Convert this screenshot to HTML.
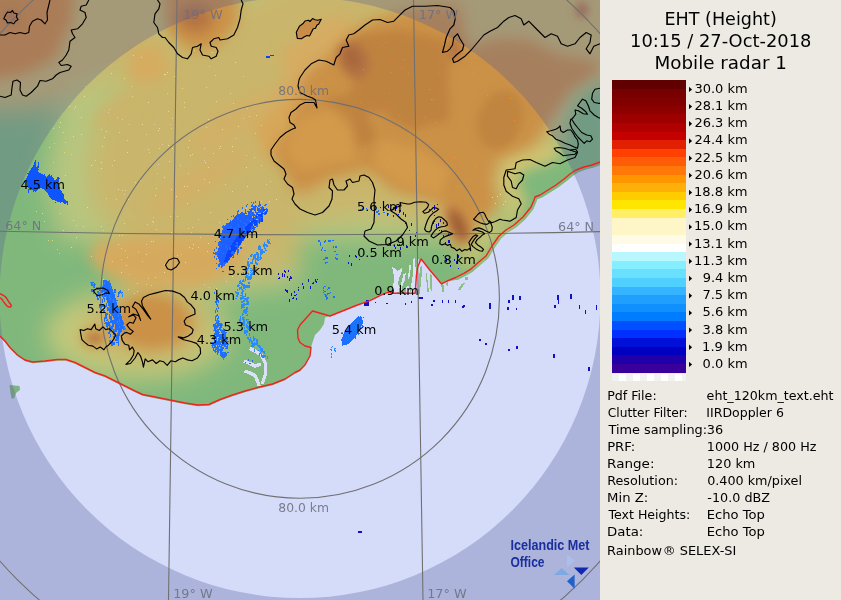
<!DOCTYPE html>
<html lang="en"><head><meta charset="utf-8"><title>EHT (Height) 10:15 / 27-Oct-2018 Mobile radar 1</title>
<style>html,body{margin:0;padding:0;background:#edeae3}svg{display:block}text{font-family:"DejaVu Sans","Liberation Sans",sans-serif}.lab{font-size:12px;fill:#000}.grid{font-size:12px;fill:#6c7080;fill-opacity:.88}.inf{font-size:12px;fill:#000}.ttl{font-size:17px;fill:#000}.ln{fill:none;stroke:#707070;stroke-width:1.1}.gl{fill:none;stroke:#000;stroke-width:1.15;stroke-linejoin:round}.co{fill:none;stroke:#f02222;stroke-width:1.4;stroke-linejoin:round}</style></head><body>
<svg width="841" height="600" viewBox="0 0 841 600" style="will-change:transform">
<defs>
<clipPath id="mapc"><rect x="0" y="0" width="600" height="600"/></clipPath>
<clipPath id="land"><path d="M0 0 L600 0 L600 166 L602.2 164.2 L594.2 167.2 L586.2 169.2 L578.2 172.2 L572.2 176.2 L566.2 181.2 L558.2 187.2 L550.2 192.2 L542.2 197.2 L537.2 199.2 L536.2 202.2 L533.2 209.2 L525.2 219.2 L516.2 227.2 L508.2 232.2 L501.2 238.2 L494.2 248.2 L488.2 258.2 L482.2 263.2 L472.2 271.9 L466.1 275.5 L457.8 279.7 L447.3 281 L441.3 283.8 L436.6 278 L429.5 269.7 L423.5 262 L421.1 259 L417.6 267.3 L416.4 275.7 L415.2 293.2 L393.8 293.2 L387.8 292.3 L383.1 294.1 L377.1 297.1 L370 300.6 L357.5 305 L345 310 L330 316 L325 317.5 L324 324 L320 330 L315 335 L312.5 342.5 L311 347.5 L310 356 L305 365 L300 371.3 L295 373.8 L285 380.3 L272.5 385.3 L257.5 388.8 L245 392.3 L232.5 396.3 L220 400.8 L209 405.8 L197.5 406.3 L185 404.3 L172.5 401.8 L160 399.3 L150 397.3 L142.5 395.8 L135 392.3 L125 387.3 L115 382.3 L105 377.3 L95 373.8 L85 368.8 L75 363.8 L66 360.8 L57.5 360.8 L45 362.3 L32.5 363.3 L25 361.3 L17.5 356.3 L10 348.8 L5 342.3 L0 337.3Z"/></clipPath>
<filter id="b12" x="-20%" y="-20%" width="140%" height="140%"><feGaussianBlur stdDeviation="12"/></filter>
<filter id="b7" x="-20%" y="-20%" width="140%" height="140%"><feGaussianBlur stdDeviation="7"/></filter>
<filter id="b4" x="-20%" y="-20%" width="140%" height="140%"><feGaussianBlur stdDeviation="4"/></filter>
<filter id="b2" x="-20%" y="-20%" width="140%" height="140%"><feGaussianBlur stdDeviation="2"/></filter>
</defs>
<rect x="0" y="0" width="841" height="600" fill="#edeae3"/>
<g clip-path="url(#mapc)">
<rect x="0" y="0" width="600" height="600" fill="#d5dcfa"/>
<g clip-path="url(#land)">
<rect x="0" y="0" width="600" height="420" fill="#80b87c"/>
<g filter="url(#b12)">
<path d="M30 -30 L640 -30 L640 140 L575 160 L530 195 L495 228 L470 248 L440 240 L300 240 L300 285 L200 300 L130 292 L100 245 L60 240 L45 180 L60 100Z" fill="#b7c67f"/>
<path d="M165 40 L300 -30 L640 -30 L640 90 L570 140 L520 185 L480 225 L440 228 L375 215 L300 225 L295 270 L200 285 L130 280 L105 250 L125 232 L95 215 L88 165 L100 120 L125 80Z" fill="#c9b66c"/>
<ellipse cx="138" cy="334" rx="92" ry="46" fill="#c4c87a"/>
<ellipse cx="150" cy="325" rx="62" ry="38" fill="#c9b66c"/>
<path d="M60 -30 L170 -30 L160 60 L100 80 L40 110 L-30 110 L-30 60Z" fill="#c9b66c"/>
</g>
<g filter="url(#b7)">
<path d="M-20 -20 L75 -20 L72 22 L60 45 L45 62 L25 74 L-20 82Z" fill="#d08c3e"/>
<ellipse cx="35" cy="45" rx="28" ry="22" fill="#d08c3e" transform="rotate(-30 35 45)"/>
<path d="M162 -20 L240 -20 L236 26 L214 48 L190 50 L166 32Z" fill="#cb9146"/>
<ellipse cx="195" cy="18" rx="18" ry="14" fill="#b47242"/>
<path d="M135 48 L160 45 L170 70 L150 85 L125 75Z" fill="#d6ac60"/>
<path d="M262 100 L300 70 L335 42 L300 100 L268 165 L255 130Z" fill="#d8a658"/>
<path d="M280 55 L315 22 L352 15 L348 42 L312 75 L288 88Z" fill="#d6ac62"/>
<path d="M300 78 L320 62 L338 48 L350 32 L372 20 L400 12 L430 5 L460 5 L468 48 L500 38 L530 40 L560 55 L600 62 L596 75 L570 95 L548 125 L530 148 L497 160 L492 182 L498 200 L492 214 L478 222 L472 240 L462 250 L453 248 L449 232 L445 212 L436 201 L415 196 L392 190 L378 176 L362 170 L345 176 L330 178 L315 188 L300 194 L292 188 L284 172 L272 155 L280 138 L292 128 L290 115 L300 104Z" fill="#cb9146"/>
<path d="M98 242 L132 238 L200 236 L245 243 L240 268 L200 287 L140 287 L104 274 L88 256Z" fill="#d5aa5f"/>
<ellipse cx="235" cy="120" rx="55" ry="16" fill="#d0b066" transform="rotate(-32 235 120)"/>
<ellipse cx="200" cy="180" rx="60" ry="14" fill="#d0b066" transform="rotate(-32 200 180)"/>
<ellipse cx="120" cy="110" rx="30" ry="10" fill="#cbb46c" transform="rotate(-32 120 110)"/>
<ellipse cx="152" cy="322" rx="40" ry="28" fill="#cb9146"/>
<ellipse cx="95" cy="338" rx="14" ry="9" fill="#cb9146"/>
<path d="M455 262 L474 250 L486 228 L505 222 L512 200 L503 180 L508 162 L560 145 L605 110 L610 170 L500 290Z" fill="#d6c670"/>
<path d="M556 118 L572 92 L600 75 L610 160 L555 165Z" fill="#b5c47c"/>
<path d="M568 120 L580 96 L610 80 L610 160 L560 160Z" fill="#80b87c"/>
<path d="M440 292 L456 272 L480 258 L495 236 L515 222 L525 200 L515 185 L520 170 L560 158 L610 130 L610 180 L500 290Z" fill="#80b87c"/>
</g>
<g filter="url(#b4)">
<path d="M338.5 60 L353.5 81.4 L349.2 94.2 L327.8 98.5 L325.7 102.8 L349.2 115.6 L353.5 130.6 L357.8 145.6 L370.6 145.6 L377 132.8 L370.6 124.2 L366.4 113.5 L385.6 111.4 L389.9 119.9 L413.4 130.6 L428.4 124.2 L447.7 122 L449.8 102.8 L447.7 81.4 L449.8 60 L445 40 L400 30 L360 35 L335 50Z" fill="#bf833f"/>
<path d="M300 120 L330 110 L350 130 L355 160 L300 170 L285 150Z" fill="#d39a4c"/>
<path d="M380 140 L420 150 L450 170 L440 195 L400 185 L375 165Z" fill="#d39a4c"/>
<ellipse cx="500" cy="120" rx="22" ry="30" fill="#c0853f" transform="rotate(20 500 120)"/>
<ellipse cx="354" cy="60" rx="15" ry="20" fill="#b47242" transform="rotate(-25 354 60)"/>
<ellipse cx="352" cy="58" rx="8" ry="11" fill="#a8683e" transform="rotate(-25 352 58)"/>
<ellipse cx="458" cy="224" rx="9" ry="19" fill="#b47242" transform="rotate(-25 458 224)"/>
<ellipse cx="458.5" cy="226" rx="4.5" ry="13" fill="#9a5c30" transform="rotate(-25 458.5 226)"/>
<ellipse cx="455" cy="50" rx="6" ry="11" fill="#b47242"/>
<ellipse cx="11" cy="17" rx="6" ry="6" fill="#b47242"/>
<ellipse cx="582" cy="10" rx="6" ry="8" fill="#b47242"/>
<ellipse cx="95" cy="338" rx="7" ry="4" fill="#b47242"/>
</g>
</g>
<path d="M297.3 38.4 L296.3 32.3 L299.4 26.3 L303.4 23.2 L305 21 L308.5 20.2 L310 21.5 L312.5 18.6 L315 19.8 L317.6 20.2 L321.2 19.2 L318.6 24.3 L317 25 L315.5 28.3 L313 29 L311.5 32.3 L309.5 36 L307 35.5 L304.4 36.8 L301.4 38.8Z" fill="#c98d48"/>
<path d="M9.5 385 L19.5 386 L20 390 L16 393 L14 398.5 L11.5 398.5 L10.5 393Z" fill="#7fb384"/>
<g shape-rendering="crispEdges">
<path d="M392 267.3 L395 267.9 L396.8 270.9 L399.7 269.7 L402.1 267.3 L401.5 272.1 L399.1 278 L397.9 284 L399.7 287.6 L398.5 292.3 L393.8 293.2 L393.2 285.2 L394.4 278 L393.2 272.1Z" fill="#dadffa"/>
<path d="M409.2 265 L411 265.6 L410.4 270.9 L409.8 276.9 L408 279.2 L408.6 272.1Z" fill="#dadffa"/>
<path d="M412.8 259 L415.2 257.8 L415.8 275.7 L415.2 293.2 L410.4 293.2 L411 285.2 L412.2 279.2 L413.4 269.7Z" fill="#dadffa"/>
<path d="M403.3 274.5 L405.7 273.3 L405.1 279.2 L402.7 285.2 L401.5 292.3 L399.7 292.3 L401.5 281.6Z" fill="#dadffa"/>
<path d="M418.2 253.1 L419 267.3 L417.8 275.7 L417.3 267.3Z" fill="#dadffa"/>
<path d="M405.7 287.6 L409.2 285.2 L409.8 293.2 L405.7 293.2Z" fill="#dadffa"/>
<path d="M250 348.5 L256 351.5 L262 356 L265.5 364 L265.5 374 L262 384" fill="none" stroke="#dadffa" stroke-width="3.2"/>
<path d="M244 361 L250 363.5 L255 366 L261 364" fill="none" stroke="#dadffa" stroke-width="3.2"/>
<path d="M244.5 371 L249 372.5 L255 375.5 L257.5 381 L259 386" fill="none" stroke="#dadffa" stroke-width="3.2"/>
<path d="M419.9 267.3 L422.3 265.6 L421.7 275.7 L420.5 287.6 L419.3 295.9 L418.2 295.9 L419 279.2Z" fill="#8cbf82"/>
<path d="M425.9 269.7 L427.1 275.7 L428.3 287.6 L429.5 292.3 L427.1 292.3 L426.5 281.6Z" fill="#8cbf82"/>
<path d="M430 273.3 L431.8 275.7 L432.4 289.9 L430.6 292.3Z" fill="#8cbf82"/>
<path d="M441.3 284 L444.3 285.2 L443.7 292.3 L441.9 292.3Z" fill="#8cbf82"/>
<path d="M446.7 281.6 L448.5 282.8 L447.9 285.8 L446.1 285.2Z" fill="#8cbf82"/>
<path d="M461.6 284 L465.1 282.8 L460.4 289.9 L457.4 290.5Z" fill="#8cbf82"/>
<path d="M465.1 276.9 L468.7 276.9 L467.5 279.8 L465.1 279.8Z" fill="#8cbf82"/>
</g>
<g shape-rendering="crispEdges">
<rect x="191" y="232" width="1" height="1" fill="#f6d0c0" opacity=".7"/>
<rect x="151" y="285" width="1" height="1" fill="#f6d0c0" opacity=".7"/>
<rect x="126" y="265" width="1" height="1" fill="#ffe87a" opacity=".7"/>
<rect x="171" y="189" width="1" height="1" fill="#fff09a" opacity=".7"/>
<rect x="220" y="146" width="1" height="1" fill="#fff09a" opacity=".7"/>
<rect x="71" y="247" width="1" height="1" fill="#fff09a" opacity=".7"/>
<rect x="190" y="155" width="1" height="1" fill="#fff09a" opacity=".7"/>
<rect x="84" y="96" width="1" height="1" fill="#fff09a" opacity=".7"/>
<rect x="256" y="115" width="1" height="1" fill="#fff09a" opacity=".7"/>
<rect x="170" y="216" width="1" height="1" fill="#fff09a" opacity=".7"/>
<rect x="137" y="283" width="1" height="1" fill="#ffe87a" opacity=".7"/>
<rect x="206" y="127" width="1" height="1" fill="#ffe87a" opacity=".7"/>
<rect x="122" y="119" width="1" height="1" fill="#f6d0c0" opacity=".7"/>
<rect x="112" y="165" width="1" height="1" fill="#f6d0c0" opacity=".7"/>
<rect x="75" y="106" width="1" height="1" fill="#fff09a" opacity=".7"/>
<rect x="135" y="182" width="1" height="1" fill="#ffe87a" opacity=".7"/>
<rect x="125" y="190" width="1" height="1" fill="#fff09a" opacity=".7"/>
<rect x="147" y="224" width="1" height="1" fill="#f6d0c0" opacity=".7"/>
<rect x="226" y="281" width="1" height="1" fill="#ffe87a" opacity=".7"/>
<rect x="119" y="132" width="1" height="1" fill="#f6d0c0" opacity=".7"/>
<rect x="95" y="160" width="1" height="1" fill="#f6d0c0" opacity=".7"/>
<rect x="224" y="247" width="1" height="1" fill="#ffe87a" opacity=".7"/>
<rect x="53" y="128" width="1" height="1" fill="#f6d0c0" opacity=".7"/>
<rect x="124" y="78" width="1" height="1" fill="#ffe87a" opacity=".7"/>
<rect x="270" y="181" width="1" height="1" fill="#ffe87a" opacity=".7"/>
<rect x="208" y="119" width="1" height="1" fill="#fff09a" opacity=".7"/>
<rect x="192" y="227" width="1" height="1" fill="#ffe87a" opacity=".7"/>
<rect x="168" y="145" width="1" height="1" fill="#fff09a" opacity=".7"/>
<rect x="222" y="129" width="1" height="1" fill="#ffe87a" opacity=".7"/>
<rect x="148" y="149" width="1" height="1" fill="#fff09a" opacity=".7"/>
<rect x="238" y="126" width="1" height="1" fill="#fff09a" opacity=".7"/>
<rect x="63" y="230" width="1" height="1" fill="#fff09a" opacity=".7"/>
<rect x="193" y="244" width="1" height="1" fill="#fff09a" opacity=".7"/>
<rect x="73" y="136" width="1" height="1" fill="#fff09a" opacity=".7"/>
<rect x="249" y="116" width="1" height="1" fill="#ffe87a" opacity=".7"/>
<rect x="269" y="201" width="1" height="1" fill="#fff09a" opacity=".7"/>
<rect x="156" y="229" width="1" height="1" fill="#ffe87a" opacity=".7"/>
<rect x="101" y="162" width="1" height="1" fill="#fff09a" opacity=".7"/>
<rect x="59" y="253" width="1" height="1" fill="#f6d0c0" opacity=".7"/>
<rect x="159" y="128" width="1" height="1" fill="#fff09a" opacity=".7"/>
<rect x="157" y="173" width="1" height="1" fill="#f6d0c0" opacity=".7"/>
<rect x="255" y="133" width="1" height="1" fill="#ffe87a" opacity=".7"/>
<rect x="210" y="212" width="1" height="1" fill="#ffe87a" opacity=".7"/>
<rect x="124" y="223" width="1" height="1" fill="#ffe87a" opacity=".7"/>
<rect x="247" y="108" width="1" height="1" fill="#f6d0c0" opacity=".7"/>
<rect x="216" y="288" width="1" height="1" fill="#ffe87a" opacity=".7"/>
<rect x="198" y="190" width="1" height="1" fill="#fff09a" opacity=".7"/>
<rect x="153" y="241" width="1" height="1" fill="#ffe87a" opacity=".7"/>
<rect x="204" y="160" width="1" height="1" fill="#f6d0c0" opacity=".7"/>
<rect x="198" y="247" width="1" height="1" fill="#ffe87a" opacity=".7"/>
<rect x="101" y="129" width="1" height="1" fill="#ffe87a" opacity=".7"/>
<rect x="121" y="259" width="1" height="1" fill="#f6d0c0" opacity=".7"/>
<rect x="146" y="134" width="1" height="1" fill="#ffe87a" opacity=".7"/>
<rect x="164" y="177" width="1" height="1" fill="#fff09a" opacity=".7"/>
<rect x="81" y="134" width="1" height="1" fill="#ffe87a" opacity=".7"/>
<rect x="204" y="148" width="1" height="1" fill="#f6d0c0" opacity=".7"/>
<rect x="232" y="191" width="1" height="1" fill="#f6d0c0" opacity=".7"/>
<rect x="173" y="265" width="1" height="1" fill="#ffe87a" opacity=".7"/>
<rect x="71" y="154" width="1" height="1" fill="#f6d0c0" opacity=".7"/>
<rect x="76" y="237" width="1" height="1" fill="#fff09a" opacity=".7"/>
<rect x="194" y="50" width="1" height="1" fill="#ffe87a" opacity=".7"/>
<rect x="172" y="148" width="1" height="1" fill="#ffe87a" opacity=".7"/>
<rect x="128" y="199" width="1" height="1" fill="#f6d0c0" opacity=".7"/>
<rect x="83" y="226" width="1" height="1" fill="#ffe87a" opacity=".7"/>
<rect x="102" y="146" width="1" height="1" fill="#fff09a" opacity=".7"/>
<rect x="209" y="182" width="1" height="1" fill="#fff09a" opacity=".7"/>
<rect x="172" y="118" width="1" height="1" fill="#ffe87a" opacity=".7"/>
<rect x="171" y="128" width="1" height="1" fill="#f6d0c0" opacity=".7"/>
<rect x="106" y="131" width="1" height="1" fill="#fff09a" opacity=".7"/>
<rect x="138" y="251" width="1" height="1" fill="#f6d0c0" opacity=".7"/>
<rect x="169" y="161" width="1" height="1" fill="#fff09a" opacity=".7"/>
<rect x="184" y="186" width="1" height="1" fill="#fff09a" opacity=".7"/>
<rect x="121" y="272" width="1" height="1" fill="#fff09a" opacity=".7"/>
<rect x="129" y="124" width="1" height="1" fill="#f6d0c0" opacity=".7"/>
<rect x="170" y="124" width="1" height="1" fill="#f6d0c0" opacity=".7"/>
<rect x="127" y="152" width="1" height="1" fill="#fff09a" opacity=".7"/>
<rect x="158" y="164" width="1" height="1" fill="#f6d0c0" opacity=".7"/>
<rect x="128" y="289" width="1" height="1" fill="#fff09a" opacity=".7"/>
<rect x="184" y="107" width="1" height="1" fill="#ffe87a" opacity=".7"/>
<rect x="159" y="148" width="1" height="1" fill="#ffe87a" opacity=".7"/>
<rect x="36" y="211" width="1" height="1" fill="#ffe87a" opacity=".7"/>
<rect x="65" y="142" width="1" height="1" fill="#ffe87a" opacity=".7"/>
<rect x="168" y="111" width="1" height="1" fill="#ffe87a" opacity=".7"/>
<rect x="233" y="103" width="1" height="1" fill="#ffe87a" opacity=".7"/>
<rect x="249" y="227" width="1" height="1" fill="#ffe87a" opacity=".7"/>
<rect x="106" y="198" width="1" height="1" fill="#ffe87a" opacity=".7"/>
<rect x="164" y="264" width="1" height="1" fill="#f6d0c0" opacity=".7"/>
<rect x="62" y="113" width="1" height="1" fill="#f6d0c0" opacity=".7"/>
<rect x="117" y="117" width="1" height="1" fill="#f6d0c0" opacity=".7"/>
<rect x="207" y="251" width="1" height="1" fill="#fff09a" opacity=".7"/>
<rect x="148" y="278" width="1" height="1" fill="#f6d0c0" opacity=".7"/>
<rect x="232" y="151" width="1" height="1" fill="#f6d0c0" opacity=".7"/>
<rect x="209" y="287" width="1" height="1" fill="#f6d0c0" opacity=".7"/>
<rect x="155" y="277" width="1" height="1" fill="#ffe87a" opacity=".7"/>
<rect x="153" y="217" width="1" height="1" fill="#f6d0c0" opacity=".7"/>
<rect x="81" y="117" width="1" height="1" fill="#fff09a" opacity=".7"/>
<rect x="232" y="191" width="1" height="1" fill="#f6d0c0" opacity=".7"/>
<rect x="232" y="276" width="1" height="1" fill="#fff09a" opacity=".7"/>
<rect x="73" y="220" width="1" height="1" fill="#ffe87a" opacity=".7"/>
<rect x="140" y="180" width="1" height="1" fill="#fff09a" opacity=".7"/>
<rect x="243" y="245" width="1" height="1" fill="#f6d0c0" opacity=".7"/>
<rect x="141" y="57" width="1" height="1" fill="#ffe87a" opacity=".7"/>
<rect x="212" y="52" width="1" height="1" fill="#fff09a" opacity=".7"/>
<rect x="87" y="207" width="1" height="1" fill="#fff09a" opacity=".7"/>
<rect x="215" y="75" width="1" height="1" fill="#ffe87a" opacity=".7"/>
<rect x="213" y="153" width="1" height="1" fill="#fff09a" opacity=".7"/>
<rect x="188" y="147" width="1" height="1" fill="#fff09a" opacity=".7"/>
<rect x="174" y="211" width="1" height="1" fill="#f6d0c0" opacity=".7"/>
<rect x="179" y="233" width="1" height="1" fill="#f6d0c0" opacity=".7"/>
<rect x="64" y="152" width="1" height="1" fill="#ffe87a" opacity=".7"/>
<rect x="208" y="167" width="1" height="1" fill="#ffe87a" opacity=".7"/>
<rect x="44" y="221" width="1" height="1" fill="#fff09a" opacity=".7"/>
<rect x="177" y="216" width="1" height="1" fill="#ffe87a" opacity=".7"/>
<rect x="266" y="184" width="1" height="1" fill="#f6d0c0" opacity=".7"/>
<rect x="91" y="256" width="1" height="1" fill="#ffe87a" opacity=".7"/>
<rect x="164" y="74" width="1" height="1" fill="#fff09a" opacity=".7"/>
<rect x="254" y="157" width="1" height="1" fill="#ffe87a" opacity=".7"/>
<rect x="76" y="225" width="1" height="1" fill="#f6d0c0" opacity=".7"/>
<rect x="118" y="189" width="1" height="1" fill="#fff09a" opacity=".7"/>
<rect x="184" y="102" width="1" height="1" fill="#ffe87a" opacity=".7"/>
<rect x="154" y="124" width="1" height="1" fill="#f6d0c0" opacity=".7"/>
<rect x="243" y="76" width="1" height="1" fill="#f6d0c0" opacity=".7"/>
<rect x="127" y="257" width="1" height="1" fill="#ffe87a" opacity=".7"/>
<rect x="116" y="199" width="1" height="1" fill="#ffe87a" opacity=".7"/>
<rect x="236" y="138" width="1" height="1" fill="#f6d0c0" opacity=".7"/>
<rect x="246" y="208" width="1" height="1" fill="#f6d0c0" opacity=".7"/>
<rect x="142" y="261" width="1" height="1" fill="#f6d0c0" opacity=".7"/>
<rect x="85" y="86" width="1" height="1" fill="#fff09a" opacity=".7"/>
<rect x="261" y="165" width="1" height="1" fill="#ffe87a" opacity=".7"/>
<rect x="261" y="201" width="1" height="1" fill="#ffe87a" opacity=".7"/>
<rect x="114" y="160" width="1" height="1" fill="#fff09a" opacity=".7"/>
<rect x="127" y="140" width="1" height="1" fill="#ffe87a" opacity=".7"/>
<rect x="69" y="106" width="1" height="1" fill="#ffe87a" opacity=".7"/>
<rect x="242" y="235" width="1" height="1" fill="#f6d0c0" opacity=".7"/>
<rect x="91" y="165" width="1" height="1" fill="#fff09a" opacity=".7"/>
<rect x="119" y="235" width="1" height="1" fill="#ffe87a" opacity=".7"/>
<rect x="205" y="162" width="1" height="1" fill="#fff09a" opacity=".7"/>
<rect x="60" y="213" width="1" height="1" fill="#ffe87a" opacity=".7"/>
<rect x="148" y="102" width="1" height="1" fill="#fff09a" opacity=".7"/>
<rect x="38" y="225" width="1" height="1" fill="#f6d0c0" opacity=".7"/>
<rect x="134" y="293" width="1" height="1" fill="#ffe87a" opacity=".7"/>
<rect x="206" y="87" width="1" height="1" fill="#ffe87a" opacity=".7"/>
<rect x="103" y="230" width="1" height="1" fill="#f6d0c0" opacity=".7"/>
<rect x="151" y="241" width="1" height="1" fill="#fff09a" opacity=".7"/>
<rect x="204" y="284" width="1" height="1" fill="#f6d0c0" opacity=".7"/>
<rect x="188" y="228" width="1" height="1" fill="#ffe87a" opacity=".7"/>
<rect x="232" y="146" width="1" height="1" fill="#fff09a" opacity=".7"/>
<rect x="247" y="186" width="1" height="1" fill="#fff09a" opacity=".7"/>
<rect x="216" y="101" width="1" height="1" fill="#ffe87a" opacity=".7"/>
<rect x="53" y="162" width="1" height="1" fill="#f6d0c0" opacity=".7"/>
<rect x="133" y="55" width="1" height="1" fill="#ffe87a" opacity=".7"/>
<rect x="246" y="155" width="1" height="1" fill="#f6d0c0" opacity=".7"/>
<rect x="162" y="144" width="1" height="1" fill="#f6d0c0" opacity=".7"/>
<rect x="235" y="62" width="1" height="1" fill="#fff09a" opacity=".7"/>
<rect x="185" y="262" width="1" height="1" fill="#fff09a" opacity=".7"/>
<rect x="192" y="154" width="1" height="1" fill="#ffe87a" opacity=".7"/>
<rect x="156" y="188" width="1" height="1" fill="#ffe87a" opacity=".7"/>
<rect x="165" y="74" width="1" height="1" fill="#fff09a" opacity=".7"/>
<rect x="146" y="254" width="1" height="1" fill="#fff09a" opacity=".7"/>
<rect x="174" y="76" width="1" height="1" fill="#ffe87a" opacity=".7"/>
<rect x="52" y="240" width="1" height="1" fill="#ffe87a" opacity=".7"/>
<rect x="111" y="73" width="1" height="1" fill="#fff09a" opacity=".7"/>
<rect x="152" y="221" width="1" height="1" fill="#ffe87a" opacity=".7"/>
<rect x="101" y="168" width="1" height="1" fill="#fff09a" opacity=".7"/>
<rect x="104" y="137" width="1" height="1" fill="#fff09a" opacity=".7"/>
<rect x="48" y="240" width="1" height="1" fill="#ffe87a" opacity=".7"/>
<rect x="225" y="184" width="1" height="1" fill="#ffe87a" opacity=".7"/>
<rect x="200" y="237" width="1" height="1" fill="#f6d0c0" opacity=".7"/>
<rect x="208" y="243" width="1" height="1" fill="#fff09a" opacity=".7"/>
<rect x="219" y="222" width="1" height="1" fill="#ffe87a" opacity=".7"/>
<rect x="57" y="249" width="1" height="1" fill="#f6d0c0" opacity=".7"/>
<rect x="74" y="108" width="1" height="1" fill="#f6d0c0" opacity=".7"/>
<rect x="171" y="232" width="1" height="1" fill="#fff09a" opacity=".7"/>
<rect x="63" y="132" width="1" height="1" fill="#ffe87a" opacity=".7"/>
<rect x="276" y="199" width="1" height="1" fill="#fff09a" opacity=".7"/>
<rect x="167" y="72" width="1" height="1" fill="#fff09a" opacity=".7"/>
<rect x="181" y="254" width="1" height="1" fill="#f6d0c0" opacity=".7"/>
<rect x="187" y="203" width="1" height="1" fill="#fff09a" opacity=".7"/>
<rect x="146" y="284" width="1" height="1" fill="#ffe87a" opacity=".7"/>
<rect x="60" y="122" width="1" height="1" fill="#fff09a" opacity=".7"/>
<rect x="149" y="152" width="1" height="1" fill="#ffe87a" opacity=".7"/>
<rect x="42" y="213" width="1" height="1" fill="#fff09a" opacity=".7"/>
<rect x="168" y="292" width="1" height="1" fill="#f6d0c0" opacity=".7"/>
<rect x="251" y="218" width="1" height="1" fill="#fff09a" opacity=".7"/>
<rect x="180" y="165" width="1" height="1" fill="#ffe87a" opacity=".7"/>
<rect x="132" y="96" width="1" height="1" fill="#ffe87a" opacity=".7"/>
<rect x="243" y="118" width="1" height="1" fill="#f6d0c0" opacity=".7"/>
<rect x="122" y="235" width="1" height="1" fill="#fff09a" opacity=".7"/>
<rect x="125" y="250" width="1" height="1" fill="#f6d0c0" opacity=".7"/>
<rect x="248" y="260" width="1" height="1" fill="#f6d0c0" opacity=".7"/>
<rect x="158" y="130" width="1" height="1" fill="#fff09a" opacity=".7"/>
<rect x="246" y="167" width="1" height="1" fill="#fff09a" opacity=".7"/>
<rect x="54" y="143" width="1" height="1" fill="#f6d0c0" opacity=".7"/>
<rect x="103" y="279" width="1" height="1" fill="#ffe87a" opacity=".7"/>
<rect x="154" y="162" width="1" height="1" fill="#f6d0c0" opacity=".7"/>
<rect x="192" y="248" width="1" height="1" fill="#ffe87a" opacity=".7"/>
<rect x="209" y="66" width="1" height="1" fill="#f6d0c0" opacity=".7"/>
<rect x="182" y="88" width="1" height="1" fill="#ffe87a" opacity=".7"/>
<rect x="188" y="173" width="1" height="1" fill="#f6d0c0" opacity=".7"/>
<rect x="153" y="222" width="1" height="1" fill="#ffe87a" opacity=".7"/>
<rect x="146" y="244" width="1" height="1" fill="#f6d0c0" opacity=".7"/>
<rect x="204" y="179" width="1" height="1" fill="#ffe87a" opacity=".7"/>
<rect x="124" y="194" width="1" height="1" fill="#f6d0c0" opacity=".7"/>
<rect x="230" y="93" width="1" height="1" fill="#ffe87a" opacity=".7"/>
<rect x="122" y="190" width="1" height="1" fill="#f6d0c0" opacity=".7"/>
<rect x="137" y="291" width="1" height="1" fill="#fff09a" opacity=".7"/>
<rect x="101" y="226" width="1" height="1" fill="#fff09a" opacity=".7"/>
<rect x="121" y="248" width="1" height="1" fill="#f6d0c0" opacity=".7"/>
<rect x="187" y="186" width="1" height="1" fill="#ffe87a" opacity=".7"/>
<rect x="164" y="272" width="1" height="1" fill="#fff09a" opacity=".7"/>
<rect x="118" y="244" width="1" height="1" fill="#ffe87a" opacity=".7"/>
<rect x="131" y="86" width="1" height="1" fill="#f6d0c0" opacity=".7"/>
<rect x="167" y="93" width="1" height="1" fill="#f6d0c0" opacity=".7"/>
<rect x="189" y="140" width="1" height="1" fill="#fff09a" opacity=".7"/>
<rect x="208" y="295" width="1" height="1" fill="#fff09a" opacity=".7"/>
<rect x="109" y="109" width="1" height="1" fill="#f6d0c0" opacity=".7"/>
<rect x="49" y="147" width="1" height="1" fill="#fff09a" opacity=".7"/>
<rect x="177" y="255" width="1" height="1" fill="#f6d0c0" opacity=".7"/>
<rect x="219" y="148" width="1" height="1" fill="#ffe87a" opacity=".7"/>
<rect x="155" y="195" width="1" height="1" fill="#fff09a" opacity=".7"/>
<rect x="108" y="112" width="1" height="1" fill="#f6d0c0" opacity=".7"/>
<rect x="261" y="125" width="1" height="1" fill="#ffe87a" opacity=".7"/>
<rect x="176" y="196" width="1" height="1" fill="#fff09a" opacity=".7"/>
<rect x="142" y="124" width="1" height="1" fill="#fff09a" opacity=".7"/>
<rect x="198" y="219" width="1" height="1" fill="#f6d0c0" opacity=".7"/>
<rect x="65" y="175" width="1" height="1" fill="#fff09a" opacity=".7"/>
<rect x="112" y="261" width="1" height="1" fill="#f6d0c0" opacity=".7"/>
<rect x="129" y="274" width="1" height="1" fill="#f6d0c0" opacity=".7"/>
<rect x="189" y="247" width="1" height="1" fill="#fff09a" opacity=".7"/>
<rect x="59" y="127" width="1" height="1" fill="#ffe87a" opacity=".7"/>
<rect x="447" y="38" width="1" height="1" fill="#ff8a20" opacity=".7"/>
<rect x="476" y="166" width="1" height="1" fill="#ff9a28" opacity=".7"/>
<rect x="471" y="186" width="1" height="1" fill="#f0705a" opacity=".7"/>
<rect x="450" y="193" width="1" height="1" fill="#ff9a28" opacity=".7"/>
<rect x="387" y="166" width="1" height="1" fill="#ff9a28" opacity=".7"/>
<rect x="349" y="87" width="1" height="1" fill="#ff8a20" opacity=".7"/>
<rect x="483" y="64" width="1" height="1" fill="#f0705a" opacity=".7"/>
<rect x="391" y="81" width="1" height="1" fill="#f0705a" opacity=".7"/>
<rect x="473" y="73" width="1" height="1" fill="#ff9a28" opacity=".7"/>
<rect x="480" y="55" width="1" height="1" fill="#ff8a20" opacity=".7"/>
<rect x="391" y="72" width="1" height="1" fill="#ff8a20" opacity=".7"/>
<rect x="454" y="157" width="1" height="1" fill="#ff9a28" opacity=".7"/>
<rect x="438" y="73" width="1" height="1" fill="#ff8a20" opacity=".7"/>
<rect x="403" y="59" width="1" height="1" fill="#ff9a28" opacity=".7"/>
<rect x="365" y="149" width="1" height="1" fill="#ff9a28" opacity=".7"/>
<rect x="429" y="89" width="1" height="1" fill="#ff9a28" opacity=".7"/>
<rect x="322" y="84" width="1" height="1" fill="#ff9a28" opacity=".7"/>
<rect x="360" y="102" width="1" height="1" fill="#ff8a20" opacity=".7"/>
<rect x="443" y="171" width="1" height="1" fill="#ff8a20" opacity=".7"/>
<rect x="421" y="29" width="1" height="1" fill="#ff8a20" opacity=".7"/>
<rect x="485" y="110" width="1" height="1" fill="#f0705a" opacity=".7"/>
<rect x="525" y="138" width="1" height="1" fill="#f0705a" opacity=".7"/>
<rect x="399" y="177" width="1" height="1" fill="#ff8a20" opacity=".7"/>
<rect x="519" y="88" width="1" height="1" fill="#ff9a28" opacity=".7"/>
<rect x="487" y="95" width="1" height="1" fill="#ff9a28" opacity=".7"/>
<rect x="401" y="68" width="1" height="1" fill="#ff8a20" opacity=".7"/>
<rect x="452" y="158" width="1" height="1" fill="#ff8a20" opacity=".7"/>
<rect x="308" y="93" width="1" height="1" fill="#ff9a28" opacity=".7"/>
<rect x="443" y="44" width="1" height="1" fill="#ff9a28" opacity=".7"/>
<rect x="318" y="85" width="1" height="1" fill="#f0705a" opacity=".7"/>
<rect x="402" y="68" width="1" height="1" fill="#f0705a" opacity=".7"/>
<rect x="389" y="159" width="1" height="1" fill="#ff9a28" opacity=".7"/>
<rect x="514" y="120" width="1" height="1" fill="#ff8a20" opacity=".7"/>
<rect x="326" y="135" width="1" height="1" fill="#ff8a20" opacity=".7"/>
<rect x="431" y="99" width="1" height="1" fill="#ff9a28" opacity=".7"/>
<rect x="392" y="62" width="1" height="1" fill="#f0705a" opacity=".7"/>
<rect x="485" y="95" width="1" height="1" fill="#f0705a" opacity=".7"/>
<rect x="471" y="62" width="1" height="1" fill="#ff8a20" opacity=".7"/>
<rect x="313" y="110" width="1" height="1" fill="#ff9a28" opacity=".7"/>
<rect x="466" y="179" width="1" height="1" fill="#ff9a28" opacity=".7"/>
<rect x="433" y="99" width="1" height="1" fill="#ff9a28" opacity=".7"/>
<rect x="457" y="186" width="1" height="1" fill="#ff8a20" opacity=".7"/>
<rect x="436" y="69" width="1" height="1" fill="#f0705a" opacity=".7"/>
<rect x="318" y="100" width="1" height="1" fill="#f0705a" opacity=".7"/>
<rect x="350" y="131" width="1" height="1" fill="#ff9a28" opacity=".7"/>
<rect x="521" y="73" width="1" height="1" fill="#f0705a" opacity=".7"/>
<rect x="389" y="93" width="1" height="1" fill="#ff8a20" opacity=".7"/>
<rect x="384" y="108" width="1" height="1" fill="#f0705a" opacity=".7"/>
<rect x="435" y="122" width="1" height="1" fill="#ff9a28" opacity=".7"/>
<rect x="382" y="45" width="1" height="1" fill="#ff8a20" opacity=".7"/>
<rect x="363" y="69" width="1" height="1" fill="#ff9a28" opacity=".7"/>
<rect x="477" y="67" width="1" height="1" fill="#ff9a28" opacity=".7"/>
<rect x="450" y="89" width="1" height="1" fill="#f0705a" opacity=".7"/>
<rect x="489" y="146" width="1" height="1" fill="#f0705a" opacity=".7"/>
<rect x="510" y="98" width="1" height="1" fill="#ff9a28" opacity=".7"/>
<rect x="442" y="121" width="1" height="1" fill="#f0705a" opacity=".7"/>
<rect x="385" y="42" width="1" height="1" fill="#ff8a20" opacity=".7"/>
<rect x="418" y="176" width="1" height="1" fill="#ff9a28" opacity=".7"/>
<rect x="399" y="115" width="1" height="1" fill="#ff8a20" opacity=".7"/>
<rect x="446" y="59" width="1" height="1" fill="#f0705a" opacity=".7"/>
<rect x="316" y="102" width="1" height="1" fill="#f0705a" opacity=".7"/>
<rect x="425" y="117" width="1" height="1" fill="#ff9a28" opacity=".7"/>
<rect x="529" y="142" width="1" height="1" fill="#ff8a20" opacity=".7"/>
<rect x="328" y="155" width="1" height="1" fill="#ff8a20" opacity=".7"/>
<rect x="408" y="73" width="1" height="1" fill="#ff8a20" opacity=".7"/>
<rect x="423" y="182" width="1" height="1" fill="#ff8a20" opacity=".7"/>
<rect x="391" y="138" width="1" height="1" fill="#ff8a20" opacity=".7"/>
<rect x="375" y="130" width="1" height="1" fill="#ff8a20" opacity=".7"/>
<rect x="321" y="83" width="1" height="1" fill="#ff9a28" opacity=".7"/>
<rect x="453" y="98" width="1" height="1" fill="#f0705a" opacity=".7"/>
<rect x="497" y="196" width="1" height="1" fill="#fff09a" opacity=".7"/>
<rect x="500" y="194" width="1" height="1" fill="#fff09a" opacity=".7"/>
<rect x="503" y="204" width="1" height="1" fill="#fff09a" opacity=".7"/>
<rect x="505" y="201" width="1" height="1" fill="#fff09a" opacity=".7"/>
<rect x="495" y="203" width="1" height="1" fill="#fff09a" opacity=".7"/>
<rect x="492" y="197" width="1" height="1" fill="#fff09a" opacity=".7"/>
<path d="M27.0 177.0 29.0 172.0 31.0 169.0 33.5 165.0 35.5 160.0 36.5 163.0 35.5 168.0 37.5 166.0 39.0 166.5 37.5 171.0 40.0 173.5 44.0 175.0 47.0 177.0 49.5 173.5 50.0 176.0 52.5 174.5 52.0 178.0 55.0 180.0 59.0 177.0 59.5 180.0 58.0 183.0 60.5 190.0 64.0 195.0 63.5 198.0 67.0 202.0 65.0 204.5 62.0 202.0 59.0 202.5 55.0 200.5 50.0 198.0 48.0 194.0 45.0 190.0 41.0 188.0 37.0 190.0 36.0 193.0 34.0 190.0 29.0 189.5 27.0 184.0 26.0 180.0Z" fill="#0f55ff"/>
<rect x="44" y="185" width="1" height="4" fill="#0f55ff"/>
<rect x="47" y="186" width="1" height="4" fill="#0f55ff"/>
<rect x="52" y="196" width="1" height="4" fill="#0f55ff"/>
<rect x="38" y="162" width="1" height="4" fill="#0f55ff"/>
<rect x="45" y="179" width="1" height="2" fill="#0f55ff"/>
<rect x="53" y="182" width="1" height="4" fill="#0f55ff"/>
<rect x="53" y="178" width="1" height="3" fill="#0f55ff"/>
<rect x="38" y="169" width="1" height="1" fill="#0f55ff"/>
<rect x="52" y="196" width="1" height="3" fill="#0f55ff"/>
<rect x="28" y="174" width="1" height="1" fill="#0f55ff"/>
<rect x="24" y="181" width="1" height="2" fill="#0f55ff"/>
<rect x="59" y="178" width="1" height="1" fill="#0f55ff"/>
<rect x="51" y="186" width="1" height="2" fill="#0f55ff"/>
<rect x="34" y="171" width="1" height="3" fill="#0f55ff"/>
<rect x="33" y="189" width="1" height="3" fill="#0f55ff"/>
<rect x="41" y="180" width="1" height="2" fill="#0f55ff"/>
<rect x="67" y="201" width="1" height="4" fill="#0f55ff"/>
<rect x="57" y="177" width="1" height="4" fill="#0f55ff"/>
<rect x="37" y="167" width="1" height="2" fill="#0f55ff"/>
<rect x="34" y="185" width="1" height="3" fill="#0f55ff"/>
<rect x="44" y="174" width="1" height="1" fill="#0f55ff"/>
<rect x="40" y="173" width="1" height="1" fill="#0f55ff"/>
<rect x="27" y="173" width="1" height="1" fill="#0f55ff"/>
<rect x="27" y="184" width="1" height="2" fill="#0f55ff"/>
<rect x="60" y="202" width="1" height="1" fill="#0f55ff"/>
<rect x="55" y="202" width="1" height="1" fill="#0f55ff"/>
<rect x="52" y="177" width="1" height="1" fill="#0f55ff"/>
<rect x="28" y="189" width="1" height="4" fill="#0f55ff"/>
<rect x="57" y="177" width="1" height="4" fill="#0f55ff"/>
<rect x="45" y="184" width="1" height="3" fill="#0f55ff"/>
<path d="M220.0 263.3 217.5 256.7 218.3 248.3 220.8 240.0 221.7 231.7 224.2 225.8 230.8 221.7 236.7 215.0 243.0 212.0 250.0 222.0 253.3 228.3 248.3 234.2 243.3 240.0 239.2 246.7 234.2 253.3 229.2 260.0 225.0 265.0 221.7 268.3Z" fill="#1e60ff"/>
<rect x="256" y="215" width="1" height="3" fill="#1e60ff"/>
<rect x="258" y="215" width="1" height="2" fill="#1e60ff"/>
<rect x="265" y="212" width="2" height="1" fill="#1e60ff"/>
<rect x="251" y="210" width="1" height="2" fill="#1e60ff"/>
<rect x="249" y="216" width="2" height="3" fill="#1e60ff"/>
<rect x="255" y="210" width="1" height="3" fill="#1e60ff"/>
<rect x="251" y="219" width="2" height="1" fill="#1e60ff"/>
<rect x="258" y="208" width="2" height="2" fill="#1e60ff"/>
<rect x="252" y="221" width="1" height="1" fill="#1e60ff"/>
<rect x="245" y="211" width="1" height="2" fill="#1e60ff"/>
<rect x="244" y="213" width="2" height="1" fill="#1e60ff"/>
<rect x="251" y="208" width="1" height="2" fill="#1e60ff"/>
<rect x="254" y="219" width="2" height="2" fill="#1e60ff"/>
<rect x="266" y="209" width="1" height="2" fill="#1e60ff"/>
<rect x="248" y="213" width="2" height="2" fill="#1e60ff"/>
<rect x="266" y="208" width="1" height="2" fill="#1e60ff"/>
<rect x="262" y="207" width="2" height="3" fill="#1e60ff"/>
<rect x="262" y="206" width="1" height="3" fill="#1e60ff"/>
<rect x="258" y="214" width="2" height="3" fill="#1e60ff"/>
<rect x="257" y="216" width="2" height="2" fill="#1e60ff"/>
<rect x="254" y="210" width="2" height="1" fill="#1e60ff"/>
<rect x="249" y="209" width="2" height="1" fill="#1e60ff"/>
<rect x="252" y="218" width="2" height="3" fill="#1e60ff"/>
<rect x="251" y="212" width="2" height="3" fill="#1e60ff"/>
<rect x="256" y="216" width="1" height="3" fill="#1e60ff"/>
<rect x="255" y="206" width="2" height="1" fill="#1e60ff"/>
<rect x="247" y="211" width="1" height="1" fill="#1e60ff"/>
<rect x="261" y="208" width="1" height="1" fill="#1e60ff"/>
<rect x="254" y="221" width="1" height="2" fill="#1e60ff"/>
<rect x="257" y="223" width="1" height="1" fill="#1e60ff"/>
<rect x="255" y="212" width="2" height="1" fill="#1e60ff"/>
<rect x="259" y="219" width="2" height="3" fill="#1e60ff"/>
<rect x="262" y="215" width="1" height="1" fill="#1e60ff"/>
<rect x="261" y="218" width="2" height="1" fill="#1e60ff"/>
<rect x="255" y="206" width="2" height="1" fill="#1e60ff"/>
<rect x="261" y="211" width="2" height="2" fill="#1e60ff"/>
<rect x="253" y="214" width="2" height="1" fill="#1e60ff"/>
<rect x="248" y="212" width="1" height="3" fill="#1e60ff"/>
<rect x="249" y="218" width="2" height="2" fill="#1e60ff"/>
<rect x="260" y="207" width="2" height="1" fill="#1e60ff"/>
<rect x="259" y="222" width="1" height="2" fill="#1e60ff"/>
<rect x="262" y="210" width="1" height="1" fill="#1e60ff"/>
<rect x="252" y="208" width="1" height="2" fill="#1e60ff"/>
<rect x="256" y="222" width="2" height="2" fill="#1e60ff"/>
<rect x="257" y="223" width="1" height="3" fill="#1e60ff"/>
<rect x="256" y="222" width="1" height="2" fill="#1e60ff"/>
<rect x="252" y="218" width="1" height="2" fill="#1e60ff"/>
<rect x="253" y="218" width="2" height="3" fill="#1e60ff"/>
<rect x="254" y="210" width="2" height="1" fill="#1e60ff"/>
<rect x="261" y="213" width="2" height="3" fill="#1e60ff"/>
<rect x="249" y="218" width="2" height="1" fill="#1e60ff"/>
<rect x="262" y="208" width="2" height="2" fill="#1e60ff"/>
<rect x="267" y="209" width="1" height="3" fill="#1e60ff"/>
<rect x="267" y="209" width="1" height="1" fill="#1e60ff"/>
<rect x="256" y="214" width="1" height="1" fill="#1e60ff"/>
<rect x="250" y="218" width="2" height="2" fill="#1e60ff"/>
<rect x="261" y="216" width="1" height="2" fill="#1e60ff"/>
<rect x="260" y="209" width="1" height="3" fill="#1e60ff"/>
<rect x="256" y="212" width="2" height="3" fill="#1e60ff"/>
<rect x="258" y="217" width="1" height="3" fill="#1e60ff"/>
<rect x="257" y="208" width="1" height="3" fill="#1e60ff"/>
<rect x="250" y="219" width="1" height="1" fill="#1e60ff"/>
<rect x="254" y="219" width="2" height="2" fill="#1e60ff"/>
<rect x="252" y="208" width="2" height="2" fill="#1e60ff"/>
<rect x="261" y="208" width="2" height="3" fill="#1e60ff"/>
<rect x="248" y="219" width="2" height="2" fill="#1e60ff"/>
<rect x="254" y="222" width="1" height="2" fill="#1e60ff"/>
<rect x="257" y="217" width="2" height="2" fill="#1e60ff"/>
<rect x="255" y="215" width="2" height="2" fill="#1e60ff"/>
<rect x="256" y="220" width="2" height="3" fill="#1e60ff"/>
<rect x="261" y="211" width="1" height="1" fill="#1e60ff"/>
<rect x="259" y="217" width="2" height="2" fill="#1e60ff"/>
<rect x="253" y="228" width="2" height="2" fill="#1e60ff"/>
<rect x="260" y="216" width="1" height="2" fill="#1e60ff"/>
<rect x="258" y="218" width="1" height="3" fill="#1e60ff"/>
<rect x="255" y="223" width="1" height="3" fill="#1e60ff"/>
<rect x="254" y="207" width="2" height="2" fill="#1e60ff"/>
<rect x="262" y="208" width="1" height="3" fill="#1e60ff"/>
<rect x="250" y="218" width="2" height="3" fill="#1e60ff"/>
<rect x="257" y="209" width="1" height="2" fill="#1e60ff"/>
<rect x="261" y="216" width="2" height="2" fill="#1e60ff"/>
<rect x="252" y="223" width="1" height="3" fill="#1e60ff"/>
<rect x="251" y="216" width="1" height="3" fill="#1e60ff"/>
<rect x="266" y="209" width="1" height="3" fill="#1e60ff"/>
<rect x="261" y="207" width="1" height="2" fill="#1e60ff"/>
<rect x="262" y="211" width="1" height="1" fill="#1e60ff"/>
<rect x="248" y="218" width="2" height="3" fill="#1e60ff"/>
<rect x="253" y="214" width="2" height="2" fill="#1e60ff"/>
<rect x="247" y="217" width="2" height="2" fill="#1e60ff"/>
<rect x="252" y="213" width="2" height="3" fill="#1e60ff"/>
<rect x="254" y="227" width="2" height="1" fill="#1e60ff"/>
<rect x="244" y="213" width="1" height="2" fill="#1e60ff"/>
<rect x="253" y="219" width="2" height="3" fill="#1e60ff"/>
<rect x="254" y="206" width="1" height="1" fill="#1e60ff"/>
<rect x="248" y="218" width="1" height="2" fill="#1e60ff"/>
<rect x="259" y="205" width="2" height="1" fill="#1e60ff"/>
<rect x="262" y="213" width="1" height="2" fill="#1e60ff"/>
<rect x="253" y="207" width="2" height="2" fill="#1e60ff"/>
<rect x="246" y="215" width="1" height="2" fill="#1e60ff"/>
<rect x="258" y="220" width="1" height="3" fill="#1e60ff"/>
<rect x="259" y="215" width="2" height="3" fill="#1e60ff"/>
<rect x="245" y="215" width="2" height="2" fill="#1e60ff"/>
<rect x="258" y="221" width="1" height="1" fill="#1e60ff"/>
<rect x="255" y="205" width="1" height="1" fill="#1e60ff"/>
<rect x="253" y="219" width="1" height="3" fill="#1e60ff"/>
<rect x="249" y="211" width="2" height="3" fill="#1e60ff"/>
<rect x="247" y="211" width="2" height="1" fill="#1e60ff"/>
<rect x="254" y="208" width="2" height="2" fill="#1e60ff"/>
<rect x="248" y="215" width="1" height="3" fill="#1e60ff"/>
<rect x="253" y="221" width="1" height="3" fill="#1e60ff"/>
<rect x="259" y="211" width="2" height="2" fill="#1e60ff"/>
<rect x="254" y="217" width="2" height="1" fill="#1e60ff"/>
<rect x="263" y="207" width="1" height="2" fill="#1e60ff"/>
<rect x="258" y="210" width="2" height="3" fill="#1e60ff"/>
<rect x="255" y="223" width="1" height="1" fill="#1e60ff"/>
<rect x="241" y="212" width="2" height="1" fill="#1e60ff"/>
<rect x="249" y="215" width="1" height="2" fill="#1e60ff"/>
<rect x="250" y="210" width="2" height="3" fill="#1e60ff"/>
<rect x="250" y="214" width="1" height="3" fill="#1e60ff"/>
<rect x="247" y="216" width="2" height="1" fill="#1e60ff"/>
<rect x="260" y="218" width="2" height="3" fill="#1e60ff"/>
<rect x="264" y="209" width="2" height="1" fill="#1e60ff"/>
<rect x="253" y="213" width="1" height="2" fill="#1e60ff"/>
<rect x="259" y="216" width="1" height="3" fill="#1e60ff"/>
<rect x="246" y="213" width="1" height="1" fill="#1e60ff"/>
<rect x="264" y="212" width="2" height="3" fill="#1e60ff"/>
<rect x="262" y="208" width="2" height="3" fill="#1e60ff"/>
<rect x="253" y="206" width="2" height="1" fill="#1e60ff"/>
<rect x="251" y="214" width="2" height="1" fill="#1e60ff"/>
<rect x="248" y="218" width="1" height="2" fill="#1e60ff"/>
<rect x="246" y="215" width="2" height="1" fill="#1e60ff"/>
<rect x="259" y="204" width="2" height="2" fill="#1e60ff"/>
<rect x="257" y="221" width="1" height="3" fill="#1e60ff"/>
<rect x="257" y="207" width="1" height="3" fill="#1e60ff"/>
<rect x="262" y="212" width="1" height="3" fill="#1e60ff"/>
<rect x="253" y="228" width="1" height="3" fill="#1e60ff"/>
<rect x="258" y="214" width="1" height="2" fill="#1e60ff"/>
<rect x="255" y="216" width="2" height="3" fill="#1e60ff"/>
<rect x="261" y="209" width="2" height="3" fill="#1e60ff"/>
<rect x="254" y="207" width="1" height="1" fill="#1e60ff"/>
<rect x="265" y="211" width="2" height="1" fill="#1e60ff"/>
<rect x="253" y="216" width="1" height="3" fill="#1e60ff"/>
<rect x="261" y="207" width="2" height="1" fill="#1e60ff"/>
<rect x="258" y="217" width="2" height="3" fill="#1e60ff"/>
<rect x="262" y="209" width="2" height="3" fill="#1e60ff"/>
<rect x="256" y="221" width="2" height="1" fill="#1e60ff"/>
<rect x="256" y="223" width="2" height="3" fill="#1e60ff"/>
<rect x="255" y="217" width="1" height="3" fill="#1e60ff"/>
<rect x="256" y="216" width="2" height="3" fill="#1e60ff"/>
<rect x="252" y="219" width="1" height="2" fill="#1e60ff"/>
<path d="M224.0 262.0 228.0 250.0 236.0 238.0 246.0 226.0 251.0 221.0 254.0 227.0 243.0 240.0 234.0 253.0 227.0 263.0Z" fill="#0a46ff"/>
<rect x="263" y="209" width="2" height="2" fill="#0a46ff"/>
<rect x="258" y="222" width="1" height="1" fill="#0a46ff"/>
<rect x="254" y="225" width="1" height="1" fill="#0a46ff"/>
<rect x="257" y="214" width="2" height="1" fill="#0a46ff"/>
<rect x="260" y="214" width="1" height="3" fill="#0a46ff"/>
<rect x="253" y="219" width="1" height="3" fill="#0a46ff"/>
<rect x="256" y="221" width="1" height="2" fill="#0a46ff"/>
<rect x="254" y="223" width="1" height="2" fill="#0a46ff"/>
<rect x="258" y="214" width="2" height="2" fill="#0a46ff"/>
<rect x="265" y="212" width="2" height="2" fill="#0a46ff"/>
<rect x="251" y="221" width="2" height="2" fill="#0a46ff"/>
<rect x="261" y="218" width="2" height="3" fill="#0a46ff"/>
<rect x="262" y="213" width="2" height="1" fill="#0a46ff"/>
<rect x="256" y="223" width="1" height="1" fill="#0a46ff"/>
<rect x="255" y="220" width="2" height="1" fill="#0a46ff"/>
<rect x="253" y="218" width="1" height="1" fill="#0a46ff"/>
<rect x="258" y="221" width="2" height="2" fill="#0a46ff"/>
<rect x="255" y="222" width="2" height="1" fill="#0a46ff"/>
<rect x="261" y="219" width="2" height="3" fill="#0a46ff"/>
<rect x="254" y="221" width="1" height="2" fill="#0a46ff"/>
<rect x="254" y="220" width="1" height="2" fill="#0a46ff"/>
<rect x="255" y="221" width="1" height="1" fill="#0a46ff"/>
<rect x="266" y="212" width="1" height="2" fill="#0a46ff"/>
<rect x="261" y="213" width="1" height="3" fill="#0a46ff"/>
<rect x="256" y="216" width="1" height="2" fill="#0a46ff"/>
<rect x="258" y="219" width="2" height="3" fill="#0a46ff"/>
<rect x="254" y="221" width="1" height="3" fill="#0a46ff"/>
<rect x="258" y="220" width="2" height="1" fill="#0a46ff"/>
<rect x="261" y="216" width="2" height="1" fill="#0a46ff"/>
<rect x="255" y="224" width="2" height="2" fill="#0a46ff"/>
<rect x="230" y="235" width="2" height="1" fill="#1e6eff"/>
<rect x="227" y="248" width="1" height="3" fill="#1e6eff"/>
<rect x="237" y="217" width="2" height="3" fill="#1e6eff"/>
<rect x="258" y="205" width="2" height="2" fill="#1e6eff"/>
<rect x="232" y="251" width="2" height="3" fill="#1e6eff"/>
<rect x="231" y="229" width="2" height="3" fill="#1e6eff"/>
<rect x="251" y="226" width="1" height="3" fill="#1e6eff"/>
<rect x="250" y="229" width="2" height="1" fill="#1e6eff"/>
<rect x="234" y="228" width="2" height="2" fill="#1e6eff"/>
<rect x="255" y="218" width="2" height="1" fill="#1e6eff"/>
<rect x="233" y="254" width="1" height="3" fill="#1e6eff"/>
<rect x="222" y="253" width="2" height="1" fill="#1e6eff"/>
<rect x="222" y="227" width="2" height="1" fill="#1e6eff"/>
<rect x="229" y="247" width="2" height="3" fill="#1e6eff"/>
<rect x="255" y="208" width="1" height="1" fill="#1e6eff"/>
<rect x="231" y="252" width="1" height="2" fill="#1e6eff"/>
<rect x="245" y="234" width="2" height="1" fill="#1e6eff"/>
<rect x="232" y="257" width="2" height="1" fill="#1e6eff"/>
<rect x="237" y="244" width="1" height="3" fill="#1e6eff"/>
<rect x="237" y="249" width="2" height="1" fill="#1e6eff"/>
<rect x="223" y="263" width="2" height="3" fill="#1e6eff"/>
<rect x="247" y="219" width="2" height="2" fill="#1e6eff"/>
<rect x="226" y="239" width="1" height="1" fill="#1e6eff"/>
<rect x="218" y="264" width="2" height="3" fill="#1e6eff"/>
<rect x="226" y="262" width="2" height="1" fill="#1e6eff"/>
<rect x="250" y="219" width="2" height="1" fill="#1e6eff"/>
<rect x="257" y="222" width="2" height="1" fill="#1e6eff"/>
<rect x="265" y="204" width="2" height="1" fill="#1e6eff"/>
<rect x="258" y="219" width="1" height="3" fill="#1e6eff"/>
<rect x="243" y="222" width="1" height="2" fill="#1e6eff"/>
<rect x="237" y="250" width="2" height="3" fill="#1e6eff"/>
<rect x="227" y="227" width="2" height="3" fill="#1e6eff"/>
<rect x="235" y="245" width="2" height="2" fill="#1e6eff"/>
<rect x="234" y="253" width="1" height="1" fill="#1e6eff"/>
<rect x="253" y="212" width="1" height="1" fill="#1e6eff"/>
<rect x="243" y="228" width="2" height="3" fill="#1e6eff"/>
<rect x="218" y="242" width="2" height="2" fill="#1e6eff"/>
<rect x="215" y="252" width="2" height="3" fill="#1e6eff"/>
<rect x="218" y="244" width="2" height="2" fill="#1e6eff"/>
<rect x="243" y="240" width="1" height="1" fill="#1e6eff"/>
<rect x="240" y="247" width="2" height="2" fill="#1e6eff"/>
<rect x="243" y="226" width="1" height="3" fill="#1e6eff"/>
<rect x="240" y="220" width="1" height="3" fill="#1e6eff"/>
<rect x="245" y="223" width="2" height="3" fill="#1e6eff"/>
<rect x="250" y="213" width="2" height="3" fill="#1e6eff"/>
<rect x="222" y="271" width="2" height="1" fill="#1e6eff"/>
<rect x="228" y="260" width="1" height="1" fill="#1e6eff"/>
<rect x="229" y="257" width="2" height="1" fill="#1e6eff"/>
<rect x="251" y="205" width="2" height="2" fill="#1e6eff"/>
<rect x="264" y="205" width="2" height="1" fill="#1e6eff"/>
<rect x="223" y="226" width="1" height="2" fill="#1e6eff"/>
<rect x="226" y="245" width="1" height="3" fill="#1e6eff"/>
<rect x="252" y="230" width="1" height="2" fill="#1e6eff"/>
<rect x="258" y="212" width="2" height="1" fill="#1e6eff"/>
<rect x="256" y="225" width="2" height="2" fill="#1e6eff"/>
<rect x="230" y="226" width="2" height="2" fill="#1e6eff"/>
<rect x="240" y="236" width="1" height="2" fill="#1e6eff"/>
<rect x="244" y="230" width="2" height="3" fill="#1e6eff"/>
<rect x="219" y="246" width="1" height="2" fill="#1e6eff"/>
<rect x="237" y="253" width="1" height="2" fill="#1e6eff"/>
<rect x="251" y="226" width="2" height="2" fill="#1e6eff"/>
<rect x="230" y="247" width="1" height="3" fill="#1e6eff"/>
<rect x="236" y="242" width="2" height="2" fill="#1e6eff"/>
<rect x="238" y="224" width="1" height="3" fill="#1e6eff"/>
<rect x="252" y="232" width="1" height="1" fill="#1e6eff"/>
<rect x="259" y="201" width="1" height="3" fill="#1e6eff"/>
<rect x="224" y="236" width="2" height="3" fill="#1e6eff"/>
<rect x="228" y="238" width="1" height="1" fill="#1e6eff"/>
<rect x="237" y="247" width="1" height="3" fill="#1e6eff"/>
<rect x="237" y="253" width="1" height="1" fill="#1e6eff"/>
<rect x="221" y="245" width="1" height="2" fill="#1e6eff"/>
<rect x="253" y="202" width="1" height="2" fill="#1e6eff"/>
<rect x="218" y="255" width="1" height="1" fill="#1e6eff"/>
<rect x="227" y="225" width="1" height="1" fill="#1e6eff"/>
<rect x="219" y="263" width="1" height="1" fill="#1e6eff"/>
<rect x="220" y="257" width="1" height="1" fill="#1e6eff"/>
<rect x="231" y="221" width="1" height="2" fill="#1e6eff"/>
<rect x="238" y="210" width="1" height="2" fill="#1e6eff"/>
<rect x="217" y="255" width="1" height="2" fill="#1e6eff"/>
<rect x="237" y="211" width="1" height="2" fill="#1e6eff"/>
<rect x="247" y="204" width="1" height="1" fill="#1e6eff"/>
<rect x="216" y="253" width="1" height="2" fill="#1e6eff"/>
<rect x="213" y="252" width="1" height="2" fill="#1e6eff"/>
<rect x="246" y="205" width="1" height="2" fill="#1e6eff"/>
<rect x="223" y="229" width="1" height="1" fill="#1e6eff"/>
<rect x="220" y="249" width="1" height="2" fill="#1e6eff"/>
<rect x="217" y="234" width="1" height="2" fill="#1e6eff"/>
<rect x="251" y="202" width="1" height="1" fill="#1e6eff"/>
<rect x="217" y="255" width="1" height="1" fill="#1e6eff"/>
<rect x="214" y="256" width="1" height="2" fill="#1e6eff"/>
<rect x="216" y="263" width="1" height="1" fill="#1e6eff"/>
<rect x="222" y="226" width="1" height="1" fill="#1e6eff"/>
<rect x="216" y="247" width="1" height="1" fill="#1e6eff"/>
<rect x="237" y="213" width="1" height="2" fill="#1e6eff"/>
<rect x="220" y="238" width="1" height="2" fill="#1e6eff"/>
<rect x="255" y="201" width="1" height="2" fill="#1e6eff"/>
<rect x="228" y="224" width="1" height="1" fill="#1e6eff"/>
<rect x="224" y="234" width="1" height="1" fill="#1e6eff"/>
<rect x="227" y="223" width="1" height="1" fill="#1e6eff"/>
<rect x="217" y="253" width="1" height="2" fill="#1e6eff"/>
<rect x="223" y="229" width="1" height="2" fill="#1e6eff"/>
<rect x="216" y="258" width="1" height="2" fill="#1e6eff"/>
<rect x="230" y="220" width="1" height="2" fill="#1e6eff"/>
<rect x="220" y="234" width="1" height="2" fill="#1e6eff"/>
<rect x="219" y="250" width="1" height="1" fill="#1e6eff"/>
<rect x="242" y="207" width="1" height="2" fill="#1e6eff"/>
<rect x="220" y="233" width="1" height="2" fill="#1e6eff"/>
<rect x="221" y="252" width="1" height="1" fill="#1e6eff"/>
<rect x="219" y="241" width="1" height="2" fill="#1e6eff"/>
<rect x="220" y="236" width="1" height="1" fill="#1e6eff"/>
<rect x="218" y="252" width="1" height="1" fill="#1e6eff"/>
<rect x="215" y="241" width="1" height="1" fill="#1e6eff"/>
<rect x="216" y="247" width="1" height="2" fill="#1e6eff"/>
<rect x="219" y="251" width="1" height="2" fill="#1e6eff"/>
<rect x="227" y="219" width="1" height="1" fill="#1e6eff"/>
<rect x="231" y="216" width="1" height="1" fill="#1e6eff"/>
<rect x="218" y="230" width="1" height="2" fill="#1e6eff"/>
<rect x="241" y="213" width="1" height="2" fill="#1e6eff"/>
<rect x="216" y="268" width="1" height="1" fill="#1e6eff"/>
<rect x="245" y="209" width="1" height="2" fill="#1e6eff"/>
<rect x="233" y="215" width="1" height="2" fill="#1e6eff"/>
<rect x="217" y="251" width="1" height="2" fill="#1e6eff"/>
<rect x="214" y="253" width="1" height="1" fill="#1e6eff"/>
<rect x="221" y="244" width="1" height="2" fill="#1e6eff"/>
<rect x="225" y="225" width="1" height="2" fill="#1e6eff"/>
<rect x="226" y="223" width="1" height="2" fill="#1e6eff"/>
<rect x="223" y="233" width="1" height="1" fill="#1e6eff"/>
<rect x="223" y="225" width="1" height="2" fill="#1e6eff"/>
<rect x="252" y="204" width="1" height="2" fill="#1e6eff"/>
<rect x="214" y="249" width="1" height="2" fill="#1e6eff"/>
<rect x="264" y="251" width="1" height="2" fill="#2a8aff"/>
<rect x="261" y="252" width="2" height="2" fill="#2a8aff"/>
<rect x="253" y="267" width="1" height="2" fill="#2a8aff"/>
<rect x="258" y="255" width="1" height="2" fill="#2a8aff"/>
<rect x="250" y="272" width="1" height="1" fill="#2a8aff"/>
<rect x="247" y="264" width="2" height="1" fill="#2a8aff"/>
<rect x="255" y="258" width="1" height="1" fill="#2a8aff"/>
<rect x="243" y="279" width="1" height="3" fill="#2a8aff"/>
<rect x="238" y="285" width="2" height="1" fill="#2a8aff"/>
<rect x="245" y="289" width="1" height="1" fill="#2a8aff"/>
<rect x="264" y="246" width="1" height="3" fill="#2a8aff"/>
<rect x="265" y="248" width="1" height="3" fill="#2a8aff"/>
<rect x="249" y="278" width="2" height="2" fill="#2a8aff"/>
<rect x="257" y="254" width="1" height="3" fill="#2a8aff"/>
<rect x="248" y="276" width="2" height="2" fill="#2a8aff"/>
<rect x="253" y="269" width="1" height="2" fill="#2a8aff"/>
<rect x="242" y="283" width="1" height="3" fill="#2a8aff"/>
<rect x="267" y="239" width="1" height="2" fill="#2a8aff"/>
<rect x="237" y="289" width="1" height="2" fill="#2a8aff"/>
<rect x="236" y="293" width="2" height="1" fill="#2a8aff"/>
<rect x="269" y="239" width="1" height="1" fill="#2a8aff"/>
<rect x="258" y="247" width="1" height="3" fill="#2a8aff"/>
<rect x="259" y="247" width="2" height="3" fill="#2a8aff"/>
<rect x="238" y="284" width="1" height="3" fill="#2a8aff"/>
<rect x="263" y="244" width="1" height="3" fill="#2a8aff"/>
<rect x="245" y="273" width="2" height="2" fill="#2a8aff"/>
<rect x="251" y="274" width="1" height="2" fill="#2a8aff"/>
<rect x="245" y="279" width="1" height="2" fill="#2a8aff"/>
<rect x="239" y="281" width="2" height="3" fill="#2a8aff"/>
<rect x="261" y="252" width="2" height="1" fill="#2a8aff"/>
<rect x="247" y="262" width="2" height="3" fill="#2a8aff"/>
<rect x="260" y="246" width="1" height="1" fill="#2a8aff"/>
<rect x="258" y="247" width="1" height="2" fill="#2a8aff"/>
<rect x="245" y="286" width="2" height="2" fill="#2a8aff"/>
<rect x="245" y="271" width="2" height="3" fill="#2a8aff"/>
<rect x="250" y="255" width="2" height="2" fill="#2a8aff"/>
<rect x="251" y="273" width="1" height="3" fill="#2a8aff"/>
<rect x="259" y="257" width="2" height="1" fill="#2a8aff"/>
<rect x="247" y="262" width="1" height="1" fill="#2a8aff"/>
<rect x="253" y="256" width="2" height="1" fill="#2a8aff"/>
<rect x="255" y="255" width="1" height="3" fill="#2a8aff"/>
<rect x="257" y="253" width="1" height="2" fill="#2a8aff"/>
<rect x="257" y="252" width="1" height="3" fill="#2a8aff"/>
<rect x="254" y="270" width="2" height="2" fill="#2a8aff"/>
<rect x="252" y="272" width="2" height="3" fill="#2a8aff"/>
<rect x="249" y="278" width="2" height="2" fill="#2a8aff"/>
<rect x="263" y="251" width="1" height="2" fill="#2a8aff"/>
<rect x="253" y="257" width="2" height="2" fill="#2a8aff"/>
<rect x="239" y="288" width="1" height="1" fill="#2a8aff"/>
<rect x="250" y="270" width="2" height="1" fill="#2a8aff"/>
<rect x="264" y="244" width="1" height="2" fill="#2a8aff"/>
<rect x="250" y="268" width="2" height="1" fill="#2a8aff"/>
<rect x="248" y="278" width="1" height="2" fill="#2a8aff"/>
<rect x="247" y="278" width="2" height="2" fill="#2a8aff"/>
<rect x="252" y="272" width="1" height="3" fill="#2a8aff"/>
<rect x="241" y="289" width="2" height="1" fill="#2a8aff"/>
<rect x="260" y="251" width="2" height="1" fill="#2a8aff"/>
<rect x="239" y="287" width="1" height="3" fill="#2a8aff"/>
<rect x="247" y="265" width="1" height="1" fill="#2a8aff"/>
<rect x="246" y="286" width="2" height="1" fill="#2a8aff"/>
<rect x="252" y="259" width="2" height="1" fill="#2a8aff"/>
<rect x="265" y="244" width="2" height="2" fill="#2a8aff"/>
<rect x="250" y="262" width="2" height="2" fill="#2a8aff"/>
<rect x="255" y="262" width="2" height="2" fill="#2a8aff"/>
<rect x="247" y="268" width="2" height="1" fill="#2a8aff"/>
<rect x="251" y="270" width="1" height="2" fill="#2a8aff"/>
<rect x="239" y="287" width="2" height="1" fill="#2a8aff"/>
<rect x="248" y="285" width="2" height="3" fill="#2a8aff"/>
<rect x="267" y="240" width="1" height="3" fill="#2a8aff"/>
<rect x="252" y="261" width="1" height="3" fill="#2a8aff"/>
<rect x="263" y="244" width="2" height="2" fill="#2a8aff"/>
<rect x="245" y="280" width="1" height="1" fill="#2a8aff"/>
<rect x="247" y="263" width="2" height="3" fill="#2a8aff"/>
<rect x="251" y="275" width="1" height="3" fill="#2a8aff"/>
<rect x="257" y="259" width="2" height="2" fill="#2a8aff"/>
<rect x="259" y="245" width="1" height="3" fill="#2a8aff"/>
<rect x="251" y="254" width="2" height="1" fill="#2a8aff"/>
<rect x="254" y="254" width="2" height="3" fill="#2a8aff"/>
<rect x="258" y="246" width="1" height="1" fill="#2a8aff"/>
<rect x="248" y="278" width="1" height="2" fill="#2a8aff"/>
<rect x="248" y="258" width="1" height="2" fill="#2a8aff"/>
<rect x="246" y="268" width="2" height="3" fill="#2a8aff"/>
<rect x="240" y="299" width="2" height="1" fill="#2a8aff"/>
<rect x="246" y="275" width="2" height="3" fill="#2a8aff"/>
<rect x="243" y="284" width="2" height="2" fill="#2a8aff"/>
<rect x="237" y="293" width="2" height="2" fill="#2a8aff"/>
<rect x="253" y="265" width="2" height="1" fill="#2a8aff"/>
<rect x="266" y="245" width="2" height="2" fill="#2a8aff"/>
<rect x="260" y="255" width="1" height="2" fill="#2a8aff"/>
<rect x="235" y="298" width="2" height="1" fill="#2a8aff"/>
<rect x="235" y="291" width="1" height="2" fill="#2a8aff"/>
<rect x="256" y="263" width="2" height="2" fill="#2a8aff"/>
<rect x="243" y="281" width="1" height="1" fill="#2a8aff"/>
<rect x="246" y="269" width="2" height="1" fill="#2a8aff"/>
<rect x="268" y="241" width="2" height="3" fill="#2a8aff"/>
<rect x="236" y="293" width="2" height="1" fill="#2a8aff"/>
<rect x="267" y="240" width="2" height="1" fill="#2a8aff"/>
<rect x="253" y="255" width="1" height="3" fill="#2a8aff"/>
<rect x="259" y="245" width="1" height="1" fill="#2a8aff"/>
<rect x="236" y="292" width="2" height="1" fill="#2a8aff"/>
<rect x="265" y="250" width="2" height="1" fill="#2a8aff"/>
<rect x="237" y="285" width="2" height="2" fill="#2a8aff"/>
<rect x="245" y="276" width="1" height="3" fill="#2a8aff"/>
<rect x="255" y="260" width="1" height="2" fill="#2a8aff"/>
<rect x="263" y="245" width="1" height="2" fill="#2a8aff"/>
<rect x="254" y="267" width="1" height="1" fill="#2a8aff"/>
<rect x="259" y="259" width="2" height="1" fill="#2a8aff"/>
<rect x="243" y="272" width="1" height="3" fill="#2a8aff"/>
<rect x="256" y="253" width="1" height="2" fill="#2a8aff"/>
<rect x="256" y="252" width="1" height="1" fill="#2a8aff"/>
<rect x="242" y="280" width="2" height="2" fill="#2a8aff"/>
<rect x="242" y="293" width="1" height="3" fill="#2a8aff"/>
<rect x="247" y="261" width="2" height="1" fill="#2a8aff"/>
<rect x="241" y="292" width="1" height="1" fill="#2a8aff"/>
<rect x="248" y="264" width="2" height="3" fill="#2a8aff"/>
<rect x="246" y="273" width="2" height="1" fill="#2a8aff"/>
<rect x="264" y="242" width="1" height="3" fill="#2a8aff"/>
<rect x="257" y="256" width="2" height="3" fill="#2a8aff"/>
<rect x="260" y="250" width="1" height="3" fill="#2a8aff"/>
<rect x="245" y="285" width="1" height="2" fill="#2a8aff"/>
<rect x="246" y="285" width="2" height="3" fill="#2a8aff"/>
<rect x="253" y="270" width="2" height="3" fill="#2a8aff"/>
<rect x="243" y="286" width="2" height="3" fill="#2a8aff"/>
<rect x="258" y="256" width="1" height="1" fill="#2a8aff"/>
<rect x="241" y="282" width="1" height="3" fill="#2a8aff"/>
<rect x="238" y="292" width="1" height="3" fill="#2a8aff"/>
<rect x="248" y="265" width="1" height="3" fill="#2a8aff"/>
<rect x="255" y="267" width="1" height="3" fill="#2a8aff"/>
<rect x="257" y="257" width="2" height="2" fill="#2a8aff"/>
<rect x="253" y="255" width="1" height="2" fill="#2a8aff"/>
<rect x="250" y="275" width="2" height="2" fill="#2a8aff"/>
<rect x="255" y="258" width="2" height="2" fill="#2a8aff"/>
<rect x="260" y="253" width="2" height="2" fill="#2a8aff"/>
<rect x="250" y="274" width="2" height="3" fill="#2a8aff"/>
<rect x="269" y="243" width="2" height="1" fill="#2a8aff"/>
<rect x="252" y="260" width="1" height="2" fill="#2a8aff"/>
<rect x="243" y="281" width="2" height="1" fill="#2a8aff"/>
<rect x="252" y="269" width="1" height="2" fill="#2a8aff"/>
<rect x="240" y="280" width="1" height="2" fill="#2a8aff"/>
<rect x="261" y="249" width="2" height="3" fill="#2a8aff"/>
<rect x="244" y="286" width="1" height="1" fill="#2a8aff"/>
<rect x="258" y="253" width="1" height="2" fill="#2a8aff"/>
<rect x="260" y="257" width="2" height="2" fill="#2a8aff"/>
<rect x="248" y="282" width="2" height="2" fill="#2a8aff"/>
<rect x="251" y="275" width="1" height="3" fill="#2a8aff"/>
<rect x="248" y="273" width="1" height="2" fill="#2a8aff"/>
<rect x="236" y="295" width="2" height="2" fill="#2a8aff"/>
<rect x="255" y="267" width="2" height="1" fill="#2a8aff"/>
<rect x="243" y="286" width="2" height="3" fill="#2a8aff"/>
<rect x="250" y="277" width="2" height="2" fill="#2a8aff"/>
<rect x="251" y="346" width="2" height="1" fill="#2a8aff"/>
<rect x="245" y="330" width="2" height="3" fill="#2a8aff"/>
<rect x="246" y="300" width="2" height="2" fill="#2a8aff"/>
<rect x="254" y="342" width="1" height="1" fill="#2a8aff"/>
<rect x="243" y="322" width="1" height="2" fill="#2a8aff"/>
<rect x="244" y="309" width="2" height="3" fill="#2a8aff"/>
<rect x="254" y="349" width="1" height="3" fill="#2a8aff"/>
<rect x="246" y="325" width="2" height="3" fill="#2a8aff"/>
<rect x="248" y="301" width="1" height="3" fill="#2a8aff"/>
<rect x="248" y="327" width="1" height="3" fill="#2a8aff"/>
<rect x="245" y="293" width="1" height="3" fill="#2a8aff"/>
<rect x="253" y="339" width="2" height="1" fill="#2a8aff"/>
<rect x="247" y="311" width="1" height="1" fill="#2a8aff"/>
<rect x="259" y="346" width="2" height="2" fill="#2a8aff"/>
<rect x="250" y="328" width="1" height="1" fill="#2a8aff"/>
<rect x="244" y="330" width="2" height="3" fill="#2a8aff"/>
<rect x="246" y="307" width="2" height="2" fill="#2a8aff"/>
<rect x="256" y="342" width="1" height="3" fill="#2a8aff"/>
<rect x="246" y="298" width="2" height="3" fill="#2a8aff"/>
<rect x="241" y="286" width="1" height="3" fill="#2a8aff"/>
<rect x="240" y="295" width="2" height="1" fill="#2a8aff"/>
<rect x="242" y="290" width="2" height="2" fill="#2a8aff"/>
<rect x="254" y="338" width="1" height="2" fill="#2a8aff"/>
<rect x="254" y="343" width="2" height="2" fill="#2a8aff"/>
<rect x="247" y="302" width="2" height="3" fill="#2a8aff"/>
<rect x="261" y="349" width="2" height="3" fill="#2a8aff"/>
<rect x="258" y="345" width="2" height="2" fill="#2a8aff"/>
<rect x="247" y="322" width="2" height="2" fill="#2a8aff"/>
<rect x="249" y="340" width="1" height="3" fill="#2a8aff"/>
<rect x="254" y="338" width="1" height="3" fill="#2a8aff"/>
<rect x="243" y="300" width="2" height="2" fill="#2a8aff"/>
<rect x="262" y="355" width="2" height="3" fill="#2a8aff"/>
<rect x="260" y="348" width="2" height="3" fill="#2a8aff"/>
<rect x="252" y="346" width="2" height="1" fill="#2a8aff"/>
<rect x="244" y="317" width="1" height="1" fill="#2a8aff"/>
<rect x="245" y="293" width="1" height="3" fill="#2a8aff"/>
<rect x="256" y="343" width="2" height="1" fill="#2a8aff"/>
<rect x="254" y="338" width="1" height="1" fill="#2a8aff"/>
<rect x="245" y="312" width="2" height="2" fill="#2a8aff"/>
<rect x="247" y="326" width="1" height="2" fill="#2a8aff"/>
<rect x="263" y="351" width="2" height="2" fill="#2a8aff"/>
<rect x="256" y="339" width="2" height="1" fill="#2a8aff"/>
<rect x="242" y="290" width="2" height="2" fill="#2a8aff"/>
<rect x="241" y="292" width="2" height="1" fill="#2a8aff"/>
<rect x="244" y="327" width="1" height="2" fill="#2a8aff"/>
<rect x="247" y="314" width="1" height="2" fill="#2a8aff"/>
<rect x="243" y="306" width="1" height="1" fill="#2a8aff"/>
<rect x="241" y="307" width="1" height="2" fill="#2a8aff"/>
<rect x="246" y="319" width="1" height="2" fill="#2a8aff"/>
<rect x="248" y="339" width="2" height="1" fill="#2a8aff"/>
<rect x="252" y="343" width="1" height="3" fill="#2a8aff"/>
<rect x="248" y="323" width="1" height="1" fill="#2a8aff"/>
<rect x="244" y="311" width="2" height="1" fill="#2a8aff"/>
<rect x="247" y="297" width="2" height="2" fill="#2a8aff"/>
<rect x="264" y="353" width="1" height="1" fill="#2a8aff"/>
<rect x="256" y="340" width="2" height="3" fill="#2a8aff"/>
<rect x="240" y="297" width="2" height="3" fill="#2a8aff"/>
<rect x="242" y="291" width="2" height="1" fill="#2a8aff"/>
<rect x="241" y="322" width="2" height="2" fill="#2a8aff"/>
<rect x="253" y="343" width="1" height="3" fill="#2a8aff"/>
<rect x="243" y="318" width="1" height="3" fill="#2a8aff"/>
<rect x="246" y="324" width="1" height="1" fill="#2a8aff"/>
<rect x="255" y="338" width="1" height="1" fill="#2a8aff"/>
<rect x="253" y="336" width="1" height="3" fill="#2a8aff"/>
<rect x="244" y="300" width="1" height="1" fill="#2a8aff"/>
<rect x="241" y="304" width="2" height="1" fill="#2a8aff"/>
<rect x="249" y="340" width="1" height="1" fill="#2a8aff"/>
<rect x="244" y="298" width="2" height="2" fill="#2a8aff"/>
<rect x="250" y="338" width="1" height="3" fill="#2a8aff"/>
<rect x="246" y="309" width="1" height="2" fill="#2a8aff"/>
<rect x="245" y="304" width="1" height="1" fill="#2a8aff"/>
<rect x="258" y="350" width="1" height="1" fill="#2a8aff"/>
<rect x="243" y="307" width="2" height="1" fill="#2a8aff"/>
<rect x="262" y="348" width="1" height="1" fill="#2a8aff"/>
<rect x="247" y="297" width="2" height="1" fill="#2a8aff"/>
<rect x="246" y="308" width="1" height="1" fill="#2a8aff"/>
<rect x="267" y="356" width="1" height="3" fill="#2a8aff"/>
<rect x="243" y="310" width="2" height="3" fill="#2a8aff"/>
<rect x="240" y="316" width="1" height="3" fill="#2a8aff"/>
<rect x="249" y="325" width="2" height="2" fill="#2a8aff"/>
<rect x="264" y="355" width="2" height="2" fill="#2a8aff"/>
<rect x="261" y="354" width="1" height="3" fill="#2a8aff"/>
<rect x="241" y="307" width="1" height="1" fill="#2a8aff"/>
<rect x="240" y="321" width="1" height="2" fill="#2a8aff"/>
<rect x="260" y="352" width="1" height="2" fill="#2a8aff"/>
<rect x="243" y="303" width="2" height="3" fill="#2a8aff"/>
<rect x="247" y="326" width="2" height="3" fill="#2a8aff"/>
<rect x="244" y="330" width="1" height="1" fill="#2a8aff"/>
<rect x="246" y="330" width="2" height="3" fill="#2a8aff"/>
<rect x="244" y="331" width="2" height="3" fill="#2a8aff"/>
<rect x="245" y="333" width="1" height="1" fill="#2a8aff"/>
<rect x="259" y="345" width="1" height="2" fill="#2a8aff"/>
<rect x="247" y="321" width="2" height="3" fill="#2a8aff"/>
<rect x="244" y="322" width="1" height="3" fill="#2a8aff"/>
<rect x="257" y="340" width="1" height="1" fill="#2a8aff"/>
<rect x="259" y="353" width="1" height="3" fill="#2a8aff"/>
<rect x="247" y="307" width="1" height="3" fill="#2a8aff"/>
<rect x="257" y="343" width="1" height="3" fill="#2a8aff"/>
<rect x="241" y="305" width="2" height="3" fill="#2a8aff"/>
<rect x="253" y="339" width="1" height="2" fill="#2a8aff"/>
<rect x="259" y="345" width="1" height="1" fill="#2a8aff"/>
<rect x="242" y="296" width="2" height="3" fill="#2a8aff"/>
<rect x="257" y="343" width="1" height="2" fill="#2a8aff"/>
<rect x="246" y="334" width="1" height="2" fill="#2a8aff"/>
<rect x="249" y="333" width="1" height="3" fill="#2a8aff"/>
<rect x="242" y="301" width="1" height="1" fill="#2a8aff"/>
<rect x="241" y="301" width="2" height="2" fill="#2a8aff"/>
<rect x="239" y="319" width="2" height="3" fill="#2a8aff"/>
<rect x="253" y="345" width="2" height="1" fill="#2a8aff"/>
<rect x="242" y="313" width="1" height="3" fill="#2a8aff"/>
<rect x="244" y="324" width="1" height="2" fill="#2a8aff"/>
<rect x="244" y="296" width="2" height="1" fill="#2a8aff"/>
<rect x="247" y="337" width="2" height="2" fill="#2a8aff"/>
<rect x="243" y="324" width="1" height="2" fill="#2a8aff"/>
<rect x="251" y="340" width="1" height="2" fill="#2a8aff"/>
<rect x="250" y="337" width="1" height="3" fill="#2a8aff"/>
<rect x="242" y="317" width="2" height="3" fill="#2a8aff"/>
<rect x="261" y="348" width="2" height="2" fill="#2a8aff"/>
<rect x="246" y="303" width="2" height="2" fill="#2a8aff"/>
<rect x="251" y="341" width="2" height="3" fill="#2a8aff"/>
<rect x="243" y="314" width="1" height="1" fill="#2a8aff"/>
<rect x="243" y="319" width="2" height="3" fill="#2a8aff"/>
<rect x="246" y="304" width="2" height="1" fill="#2a8aff"/>
<rect x="240" y="288" width="1" height="1" fill="#2a8aff"/>
<rect x="251" y="345" width="2" height="2" fill="#2a8aff"/>
<rect x="245" y="311" width="2" height="1" fill="#2a8aff"/>
<rect x="247" y="319" width="2" height="1" fill="#2a8aff"/>
<rect x="243" y="323" width="1" height="3" fill="#2a8aff"/>
<rect x="241" y="292" width="1" height="2" fill="#2a8aff"/>
<rect x="246" y="315" width="2" height="1" fill="#2a8aff"/>
<rect x="216" y="309" width="1" height="1" fill="#1e6eff"/>
<rect x="216" y="293" width="1" height="1" fill="#1e6eff"/>
<rect x="215" y="310" width="1" height="2" fill="#1e6eff"/>
<rect x="216" y="302" width="1" height="3" fill="#1e6eff"/>
<rect x="215" y="289" width="1" height="1" fill="#1e6eff"/>
<rect x="216" y="315" width="1" height="2" fill="#1e6eff"/>
<rect x="218" y="320" width="1" height="1" fill="#1e6eff"/>
<rect x="217" y="299" width="1" height="2" fill="#1e6eff"/>
<rect x="217" y="304" width="1" height="3" fill="#1e6eff"/>
<rect x="218" y="301" width="1" height="1" fill="#1e6eff"/>
<rect x="218" y="322" width="1" height="3" fill="#1e6eff"/>
<rect x="218" y="300" width="1" height="3" fill="#1e6eff"/>
<rect x="218" y="323" width="1" height="2" fill="#1e6eff"/>
<rect x="217" y="310" width="1" height="2" fill="#1e6eff"/>
<rect x="214" y="292" width="1" height="2" fill="#1e6eff"/>
<rect x="218" y="316" width="1" height="3" fill="#1e6eff"/>
<rect x="215" y="310" width="1" height="3" fill="#1e6eff"/>
<rect x="217" y="314" width="1" height="2" fill="#1e6eff"/>
<rect x="217" y="324" width="1" height="3" fill="#1e6eff"/>
<rect x="216" y="300" width="1" height="3" fill="#1e6eff"/>
<rect x="217" y="293" width="1" height="1" fill="#1e6eff"/>
<rect x="215" y="316" width="1" height="3" fill="#1e6eff"/>
<rect x="218" y="307" width="1" height="2" fill="#1e6eff"/>
<rect x="218" y="307" width="1" height="1" fill="#1e6eff"/>
<rect x="217" y="304" width="1" height="2" fill="#1e6eff"/>
<rect x="215" y="301" width="1" height="2" fill="#1e6eff"/>
<rect x="216" y="321" width="1" height="2" fill="#1e6eff"/>
<rect x="217" y="318" width="1" height="2" fill="#1e6eff"/>
<rect x="218" y="317" width="1" height="2" fill="#1e6eff"/>
<rect x="217" y="318" width="1" height="1" fill="#1e6eff"/>
<rect x="217" y="299" width="1" height="3" fill="#1e6eff"/>
<rect x="217" y="299" width="1" height="2" fill="#1e6eff"/>
<rect x="216" y="308" width="1" height="1" fill="#1e6eff"/>
<rect x="215" y="318" width="1" height="3" fill="#1e6eff"/>
<rect x="217" y="298" width="1" height="3" fill="#1e6eff"/>
<rect x="215" y="323" width="2" height="1" fill="#1e6eff"/>
<rect x="221" y="340" width="2" height="3" fill="#1e6eff"/>
<rect x="227" y="344" width="1" height="2" fill="#1e6eff"/>
<rect x="227" y="341" width="2" height="1" fill="#1e6eff"/>
<rect x="225" y="332" width="2" height="1" fill="#1e6eff"/>
<rect x="224" y="341" width="1" height="3" fill="#1e6eff"/>
<rect x="213" y="342" width="2" height="1" fill="#1e6eff"/>
<rect x="222" y="348" width="1" height="3" fill="#1e6eff"/>
<rect x="215" y="347" width="1" height="2" fill="#1e6eff"/>
<rect x="226" y="342" width="2" height="3" fill="#1e6eff"/>
<rect x="224" y="334" width="2" height="1" fill="#1e6eff"/>
<rect x="219" y="321" width="1" height="1" fill="#1e6eff"/>
<rect x="222" y="337" width="2" height="2" fill="#1e6eff"/>
<rect x="215" y="326" width="2" height="3" fill="#1e6eff"/>
<rect x="221" y="348" width="2" height="3" fill="#1e6eff"/>
<rect x="220" y="352" width="2" height="2" fill="#1e6eff"/>
<rect x="217" y="323" width="1" height="3" fill="#1e6eff"/>
<rect x="218" y="334" width="1" height="2" fill="#1e6eff"/>
<rect x="217" y="329" width="2" height="2" fill="#1e6eff"/>
<rect x="224" y="345" width="1" height="2" fill="#1e6eff"/>
<rect x="219" y="334" width="2" height="2" fill="#1e6eff"/>
<rect x="223" y="352" width="1" height="2" fill="#1e6eff"/>
<rect x="215" y="347" width="2" height="3" fill="#1e6eff"/>
<rect x="220" y="335" width="1" height="3" fill="#1e6eff"/>
<rect x="216" y="335" width="1" height="3" fill="#1e6eff"/>
<rect x="213" y="336" width="1" height="3" fill="#1e6eff"/>
<rect x="218" y="342" width="2" height="1" fill="#1e6eff"/>
<rect x="217" y="346" width="2" height="3" fill="#1e6eff"/>
<rect x="214" y="336" width="1" height="3" fill="#1e6eff"/>
<rect x="214" y="336" width="1" height="1" fill="#1e6eff"/>
<rect x="225" y="354" width="1" height="3" fill="#1e6eff"/>
<rect x="212" y="337" width="2" height="1" fill="#1e6eff"/>
<rect x="217" y="351" width="2" height="2" fill="#1e6eff"/>
<rect x="214" y="327" width="2" height="1" fill="#1e6eff"/>
<rect x="218" y="332" width="2" height="1" fill="#1e6eff"/>
<rect x="224" y="333" width="1" height="3" fill="#1e6eff"/>
<rect x="215" y="338" width="2" height="1" fill="#1e6eff"/>
<rect x="216" y="349" width="2" height="1" fill="#1e6eff"/>
<rect x="214" y="328" width="2" height="3" fill="#1e6eff"/>
<rect x="216" y="328" width="1" height="1" fill="#1e6eff"/>
<rect x="220" y="325" width="2" height="3" fill="#1e6eff"/>
<rect x="216" y="337" width="1" height="2" fill="#1e6eff"/>
<rect x="221" y="352" width="2" height="1" fill="#1e6eff"/>
<rect x="214" y="344" width="2" height="3" fill="#1e6eff"/>
<rect x="220" y="346" width="2" height="3" fill="#1e6eff"/>
<rect x="227" y="347" width="1" height="2" fill="#1e6eff"/>
<rect x="221" y="334" width="2" height="3" fill="#1e6eff"/>
<rect x="217" y="352" width="1" height="3" fill="#1e6eff"/>
<rect x="214" y="340" width="1" height="3" fill="#1e6eff"/>
<rect x="217" y="331" width="2" height="1" fill="#1e6eff"/>
<rect x="221" y="332" width="1" height="1" fill="#1e6eff"/>
<rect x="212" y="345" width="2" height="1" fill="#1e6eff"/>
<rect x="218" y="343" width="2" height="2" fill="#1e6eff"/>
<rect x="215" y="329" width="1" height="3" fill="#1e6eff"/>
<rect x="224" y="354" width="1" height="3" fill="#1e6eff"/>
<rect x="214" y="325" width="1" height="2" fill="#1e6eff"/>
<rect x="220" y="327" width="2" height="1" fill="#1e6eff"/>
<rect x="215" y="343" width="1" height="2" fill="#1e6eff"/>
<rect x="216" y="326" width="2" height="2" fill="#1e6eff"/>
<rect x="215" y="323" width="1" height="1" fill="#1e6eff"/>
<rect x="222" y="342" width="2" height="3" fill="#1e6eff"/>
<rect x="218" y="339" width="2" height="3" fill="#1e6eff"/>
<rect x="224" y="352" width="1" height="3" fill="#1e6eff"/>
<rect x="222" y="335" width="1" height="1" fill="#1e6eff"/>
<rect x="214" y="333" width="1" height="2" fill="#1e6eff"/>
<rect x="220" y="352" width="2" height="1" fill="#1e6eff"/>
<rect x="215" y="343" width="1" height="1" fill="#1e6eff"/>
<rect x="224" y="334" width="2" height="3" fill="#1e6eff"/>
<rect x="219" y="339" width="1" height="3" fill="#1e6eff"/>
<rect x="217" y="326" width="2" height="1" fill="#1e6eff"/>
<rect x="223" y="355" width="2" height="3" fill="#1e6eff"/>
<rect x="225" y="354" width="1" height="3" fill="#1e6eff"/>
<rect x="219" y="339" width="1" height="3" fill="#1e6eff"/>
<rect x="215" y="324" width="1" height="1" fill="#1e6eff"/>
<rect x="214" y="325" width="2" height="3" fill="#1e6eff"/>
<rect x="216" y="330" width="1" height="1" fill="#1e6eff"/>
<rect x="224" y="335" width="2" height="3" fill="#1e6eff"/>
<rect x="227" y="352" width="2" height="1" fill="#1e6eff"/>
<rect x="218" y="335" width="1" height="1" fill="#1e6eff"/>
<rect x="217" y="324" width="1" height="1" fill="#1e6eff"/>
<rect x="220" y="341" width="1" height="3" fill="#1e6eff"/>
<rect x="213" y="348" width="1" height="3" fill="#1e6eff"/>
<rect x="218" y="339" width="2" height="2" fill="#1e6eff"/>
<rect x="223" y="347" width="1" height="1" fill="#1e6eff"/>
<rect x="221" y="331" width="1" height="2" fill="#1e6eff"/>
<rect x="214" y="335" width="1" height="1" fill="#1e6eff"/>
<rect x="216" y="339" width="1" height="3" fill="#1e6eff"/>
<rect x="212" y="346" width="1" height="2" fill="#1e6eff"/>
<rect x="225" y="343" width="2" height="1" fill="#1e6eff"/>
<rect x="217" y="343" width="2" height="2" fill="#1e6eff"/>
<rect x="222" y="347" width="2" height="2" fill="#1e6eff"/>
<rect x="224" y="352" width="2" height="3" fill="#1e6eff"/>
<rect x="221" y="344" width="1" height="1" fill="#1e6eff"/>
<rect x="220" y="344" width="2" height="1" fill="#1e6eff"/>
<rect x="217" y="334" width="2" height="3" fill="#1e6eff"/>
<rect x="219" y="345" width="1" height="2" fill="#1e6eff"/>
<rect x="214" y="337" width="1" height="1" fill="#1e6eff"/>
<rect x="222" y="341" width="1" height="3" fill="#1e6eff"/>
<rect x="214" y="327" width="1" height="1" fill="#1e6eff"/>
<rect x="223" y="329" width="2" height="3" fill="#1e6eff"/>
<rect x="217" y="336" width="1" height="1" fill="#1e6eff"/>
<rect x="214" y="335" width="1" height="3" fill="#1e6eff"/>
<rect x="216" y="332" width="1" height="2" fill="#1e6eff"/>
<rect x="213" y="335" width="2" height="2" fill="#1e6eff"/>
<rect x="218" y="338" width="2" height="1" fill="#1e6eff"/>
<rect x="220" y="339" width="2" height="1" fill="#1e6eff"/>
<rect x="216" y="351" width="2" height="1" fill="#1e6eff"/>
<rect x="215" y="343" width="1" height="2" fill="#1e6eff"/>
<rect x="223" y="357" width="1" height="2" fill="#1e6eff"/>
<rect x="222" y="355" width="1" height="3" fill="#1e6eff"/>
<rect x="222" y="331" width="2" height="3" fill="#1e6eff"/>
<rect x="217" y="349" width="1" height="3" fill="#1e6eff"/>
<rect x="223" y="332" width="2" height="3" fill="#1e6eff"/>
<rect x="213" y="347" width="1" height="1" fill="#1e6eff"/>
<rect x="223" y="333" width="1" height="2" fill="#1e6eff"/>
<rect x="212" y="342" width="1" height="2" fill="#1e6eff"/>
<rect x="215" y="323" width="1" height="3" fill="#1e6eff"/>
<rect x="219" y="339" width="2" height="1" fill="#1e6eff"/>
<rect x="225" y="348" width="2" height="1" fill="#1e6eff"/>
<rect x="220" y="349" width="2" height="3" fill="#1e6eff"/>
<rect x="214" y="333" width="2" height="1" fill="#1e6eff"/>
<rect x="220" y="337" width="2" height="2" fill="#1e6eff"/>
<rect x="222" y="330" width="2" height="3" fill="#1e6eff"/>
<rect x="221" y="355" width="1" height="2" fill="#1e6eff"/>
<rect x="214" y="346" width="1" height="2" fill="#1e6eff"/>
<rect x="223" y="344" width="2" height="2" fill="#1e6eff"/>
<rect x="215" y="342" width="1" height="1" fill="#1e6eff"/>
<rect x="217" y="335" width="1" height="1" fill="#1e6eff"/>
<rect x="225" y="332" width="1" height="2" fill="#1e6eff"/>
<rect x="215" y="331" width="2" height="3" fill="#1e6eff"/>
<rect x="225" y="340" width="1" height="1" fill="#1e6eff"/>
<rect x="222" y="332" width="1" height="1" fill="#1e6eff"/>
<rect x="217" y="351" width="2" height="2" fill="#1e6eff"/>
<rect x="219" y="340" width="1" height="1" fill="#1e6eff"/>
<rect x="215" y="325" width="2" height="1" fill="#1e6eff"/>
<rect x="223" y="340" width="2" height="2" fill="#1e6eff"/>
<rect x="225" y="340" width="1" height="1" fill="#1e6eff"/>
<rect x="213" y="324" width="2" height="3" fill="#1e6eff"/>
<rect x="219" y="337" width="2" height="3" fill="#1e6eff"/>
<rect x="214" y="350" width="1" height="2" fill="#1e6eff"/>
<rect x="226" y="338" width="1" height="3" fill="#1e6eff"/>
<rect x="212" y="344" width="2" height="1" fill="#1e6eff"/>
<rect x="223" y="338" width="2" height="2" fill="#1e6eff"/>
<rect x="219" y="336" width="2" height="2" fill="#1e6eff"/>
<rect x="227" y="338" width="1" height="2" fill="#1e6eff"/>
<rect x="215" y="325" width="1" height="3" fill="#1e6eff"/>
<rect x="226" y="340" width="1" height="2" fill="#1e6eff"/>
<rect x="217" y="324" width="2" height="2" fill="#1e6eff"/>
<rect x="216" y="351" width="1" height="1" fill="#1e6eff"/>
<rect x="217" y="322" width="1" height="1" fill="#1e6eff"/>
<rect x="223" y="340" width="2" height="1" fill="#1e6eff"/>
<rect x="225" y="337" width="2" height="1" fill="#1e6eff"/>
<rect x="220" y="336" width="2" height="1" fill="#1e6eff"/>
<rect x="217" y="332" width="1" height="3" fill="#1e6eff"/>
<rect x="224" y="344" width="2" height="3" fill="#1e6eff"/>
<rect x="224" y="334" width="2" height="1" fill="#1e6eff"/>
<rect x="220" y="353" width="1" height="1" fill="#1e6eff"/>
<rect x="215" y="332" width="2" height="3" fill="#1e6eff"/>
<rect x="216" y="331" width="1" height="2" fill="#1e6eff"/>
<rect x="219" y="349" width="2" height="2" fill="#1e6eff"/>
<rect x="220" y="353" width="2" height="1" fill="#1e6eff"/>
<rect x="227" y="343" width="1" height="3" fill="#1e6eff"/>
<rect x="218" y="332" width="1" height="3" fill="#1e6eff"/>
<rect x="219" y="339" width="2" height="1" fill="#1e6eff"/>
<rect x="217" y="342" width="2" height="2" fill="#1e6eff"/>
<rect x="216" y="341" width="2" height="2" fill="#1e6eff"/>
<rect x="220" y="328" width="1" height="3" fill="#1e6eff"/>
<rect x="226" y="346" width="2" height="3" fill="#1e6eff"/>
<rect x="215" y="350" width="1" height="3" fill="#1e6eff"/>
<rect x="214" y="336" width="1" height="3" fill="#1e6eff"/>
<rect x="220" y="351" width="2" height="1" fill="#1e6eff"/>
<rect x="217" y="335" width="1" height="2" fill="#1e6eff"/>
<rect x="216" y="342" width="2" height="2" fill="#1e6eff"/>
<rect x="217" y="348" width="2" height="3" fill="#1e6eff"/>
<rect x="220" y="354" width="2" height="2" fill="#1e6eff"/>
<rect x="215" y="344" width="2" height="1" fill="#1e6eff"/>
<rect x="221" y="345" width="2" height="1" fill="#1e6eff"/>
<rect x="217" y="321" width="2" height="2" fill="#1e6eff"/>
<rect x="218" y="323" width="2" height="3" fill="#1e6eff"/>
<rect x="227" y="341" width="1" height="3" fill="#1e6eff"/>
<rect x="221" y="348" width="1" height="2" fill="#1e6eff"/>
<rect x="222" y="353" width="2" height="3" fill="#1e6eff"/>
<rect x="212" y="345" width="2" height="1" fill="#1e6eff"/>
<rect x="219" y="340" width="1" height="3" fill="#1e6eff"/>
<rect x="225" y="353" width="2" height="3" fill="#1e6eff"/>
<rect x="219" y="327" width="2" height="3" fill="#1e6eff"/>
<rect x="217" y="345" width="1" height="3" fill="#1e6eff"/>
<rect x="223" y="329" width="1" height="1" fill="#1e6eff"/>
<rect x="220" y="323" width="2" height="2" fill="#1e6eff"/>
<rect x="224" y="336" width="2" height="2" fill="#1e6eff"/>
<rect x="226" y="338" width="1" height="1" fill="#2a8aff"/>
<rect x="220" y="347" width="1" height="2" fill="#2a8aff"/>
<rect x="215" y="348" width="1" height="1" fill="#2a8aff"/>
<rect x="214" y="338" width="1" height="2" fill="#2a8aff"/>
<rect x="223" y="328" width="1" height="1" fill="#2a8aff"/>
<rect x="217" y="320" width="1" height="2" fill="#2a8aff"/>
<rect x="223" y="353" width="1" height="1" fill="#2a8aff"/>
<rect x="217" y="344" width="1" height="1" fill="#2a8aff"/>
<rect x="211" y="345" width="1" height="1" fill="#2a8aff"/>
<rect x="228" y="344" width="1" height="1" fill="#2a8aff"/>
<rect x="216" y="320" width="1" height="2" fill="#2a8aff"/>
<rect x="223" y="358" width="1" height="2" fill="#2a8aff"/>
<rect x="214" y="339" width="1" height="1" fill="#2a8aff"/>
<rect x="220" y="328" width="1" height="1" fill="#2a8aff"/>
<rect x="221" y="329" width="1" height="2" fill="#2a8aff"/>
<rect x="214" y="351" width="1" height="1" fill="#2a8aff"/>
<rect x="214" y="337" width="1" height="1" fill="#2a8aff"/>
<rect x="213" y="330" width="1" height="1" fill="#2a8aff"/>
<rect x="222" y="324" width="1" height="2" fill="#2a8aff"/>
<rect x="211" y="342" width="1" height="2" fill="#2a8aff"/>
<path d="M103.0 280.0 110.0 281.0 113.0 290.0 116.0 300.0 119.0 310.0 123.0 322.0 122.0 330.0 118.0 332.0 115.0 322.0 111.0 312.0 107.0 302.0 104.0 292.0Z" fill="#1e6eff"/>
<rect x="109" y="329" width="2" height="2" fill="#1e6eff"/>
<rect x="114" y="317" width="1" height="1" fill="#1e6eff"/>
<rect x="91" y="282" width="2" height="4" fill="#1e6eff"/>
<rect x="112" y="320" width="2" height="4" fill="#1e6eff"/>
<rect x="105" y="281" width="1" height="2" fill="#1e6eff"/>
<rect x="113" y="304" width="2" height="1" fill="#1e6eff"/>
<rect x="113" y="336" width="1" height="3" fill="#1e6eff"/>
<rect x="118" y="338" width="1" height="4" fill="#1e6eff"/>
<rect x="119" y="317" width="2" height="1" fill="#1e6eff"/>
<rect x="119" y="293" width="1" height="1" fill="#1e6eff"/>
<rect x="117" y="335" width="2" height="3" fill="#1e6eff"/>
<rect x="102" y="295" width="1" height="2" fill="#1e6eff"/>
<rect x="111" y="328" width="1" height="3" fill="#1e6eff"/>
<rect x="104" y="280" width="2" height="2" fill="#1e6eff"/>
<rect x="111" y="317" width="1" height="1" fill="#1e6eff"/>
<rect x="91" y="283" width="2" height="3" fill="#1e6eff"/>
<rect x="99" y="296" width="1" height="2" fill="#1e6eff"/>
<rect x="112" y="306" width="2" height="4" fill="#1e6eff"/>
<rect x="121" y="328" width="1" height="4" fill="#1e6eff"/>
<rect x="118" y="332" width="2" height="4" fill="#1e6eff"/>
<rect x="93" y="282" width="1" height="1" fill="#1e6eff"/>
<rect x="107" y="313" width="1" height="2" fill="#1e6eff"/>
<rect x="108" y="322" width="2" height="4" fill="#1e6eff"/>
<rect x="107" y="322" width="1" height="4" fill="#1e6eff"/>
<rect x="110" y="326" width="2" height="2" fill="#1e6eff"/>
<rect x="109" y="306" width="1" height="3" fill="#1e6eff"/>
<rect x="111" y="342" width="2" height="4" fill="#1e6eff"/>
<rect x="109" y="337" width="1" height="1" fill="#1e6eff"/>
<rect x="113" y="330" width="2" height="4" fill="#1e6eff"/>
<rect x="105" y="322" width="2" height="2" fill="#1e6eff"/>
<rect x="104" y="318" width="1" height="4" fill="#1e6eff"/>
<rect x="120" y="316" width="1" height="2" fill="#1e6eff"/>
<rect x="109" y="316" width="2" height="3" fill="#1e6eff"/>
<rect x="106" y="297" width="2" height="3" fill="#1e6eff"/>
<rect x="99" y="304" width="1" height="4" fill="#1e6eff"/>
<rect x="118" y="292" width="1" height="3" fill="#1e6eff"/>
<rect x="103" y="285" width="1" height="2" fill="#1e6eff"/>
<rect x="116" y="335" width="2" height="2" fill="#1e6eff"/>
<rect x="109" y="297" width="1" height="2" fill="#1e6eff"/>
<rect x="105" y="314" width="2" height="4" fill="#1e6eff"/>
<rect x="116" y="329" width="2" height="1" fill="#1e6eff"/>
<rect x="111" y="296" width="2" height="2" fill="#1e6eff"/>
<rect x="110" y="327" width="2" height="3" fill="#1e6eff"/>
<rect x="111" y="318" width="1" height="2" fill="#1e6eff"/>
<rect x="108" y="321" width="1" height="3" fill="#1e6eff"/>
<rect x="121" y="327" width="1" height="4" fill="#1e6eff"/>
<rect x="110" y="291" width="2" height="3" fill="#1e6eff"/>
<rect x="113" y="342" width="2" height="3" fill="#1e6eff"/>
<rect x="120" y="327" width="2" height="4" fill="#1e6eff"/>
<rect x="114" y="302" width="1" height="1" fill="#1e6eff"/>
<rect x="97" y="298" width="2" height="2" fill="#1e6eff"/>
<rect x="115" y="329" width="1" height="3" fill="#1e6eff"/>
<rect x="103" y="281" width="2" height="4" fill="#1e6eff"/>
<rect x="109" y="326" width="1" height="3" fill="#1e6eff"/>
<rect x="107" y="319" width="1" height="1" fill="#1e6eff"/>
<rect x="91" y="289" width="2" height="3" fill="#1e6eff"/>
<rect x="97" y="294" width="1" height="4" fill="#1e6eff"/>
<rect x="100" y="304" width="2" height="4" fill="#1e6eff"/>
<rect x="106" y="285" width="2" height="1" fill="#1e6eff"/>
<rect x="116" y="329" width="1" height="3" fill="#1e6eff"/>
<rect x="117" y="333" width="1" height="3" fill="#1e6eff"/>
<rect x="110" y="312" width="2" height="2" fill="#1e6eff"/>
<rect x="93" y="290" width="1" height="4" fill="#1e6eff"/>
<rect x="104" y="298" width="1" height="4" fill="#1e6eff"/>
<rect x="102" y="289" width="1" height="2" fill="#1e6eff"/>
<rect x="109" y="310" width="2" height="3" fill="#1e6eff"/>
<rect x="112" y="313" width="1" height="1" fill="#1e6eff"/>
<rect x="106" y="294" width="2" height="2" fill="#1e6eff"/>
<rect x="114" y="316" width="1" height="3" fill="#1e6eff"/>
<rect x="104" y="294" width="2" height="3" fill="#1e6eff"/>
<rect x="112" y="300" width="2" height="4" fill="#1e6eff"/>
<rect x="115" y="321" width="2" height="3" fill="#1e6eff"/>
<rect x="105" y="291" width="1" height="3" fill="#1e6eff"/>
<rect x="93" y="284" width="2" height="4" fill="#1e6eff"/>
<rect x="109" y="315" width="1" height="4" fill="#1e6eff"/>
<rect x="102" y="290" width="1" height="3" fill="#1e6eff"/>
<rect x="102" y="287" width="2" height="1" fill="#1e6eff"/>
<rect x="103" y="296" width="1" height="3" fill="#1e6eff"/>
<rect x="109" y="331" width="2" height="1" fill="#1e6eff"/>
<rect x="118" y="334" width="2" height="1" fill="#1e6eff"/>
<rect x="121" y="316" width="1" height="2" fill="#1e6eff"/>
<rect x="101" y="282" width="1" height="1" fill="#1e6eff"/>
<rect x="112" y="340" width="1" height="2" fill="#1e6eff"/>
<rect x="110" y="319" width="2" height="4" fill="#1e6eff"/>
<rect x="99" y="289" width="2" height="2" fill="#1e6eff"/>
<rect x="112" y="309" width="2" height="4" fill="#1e6eff"/>
<rect x="102" y="294" width="1" height="3" fill="#1e6eff"/>
<rect x="116" y="323" width="2" height="1" fill="#1e6eff"/>
<rect x="114" y="289" width="2" height="4" fill="#1e6eff"/>
<rect x="105" y="284" width="1" height="1" fill="#1e6eff"/>
<rect x="122" y="322" width="2" height="3" fill="#1e6eff"/>
<rect x="116" y="316" width="1" height="3" fill="#1e6eff"/>
<rect x="117" y="296" width="1" height="1" fill="#1e6eff"/>
<rect x="99" y="289" width="2" height="1" fill="#1e6eff"/>
<rect x="109" y="301" width="1" height="3" fill="#1e6eff"/>
<rect x="119" y="291" width="1" height="2" fill="#1e6eff"/>
<rect x="107" y="307" width="1" height="1" fill="#1e6eff"/>
<rect x="116" y="336" width="1" height="3" fill="#1e6eff"/>
<rect x="120" y="319" width="2" height="2" fill="#1e6eff"/>
<rect x="114" y="294" width="1" height="2" fill="#1e6eff"/>
<rect x="118" y="313" width="2" height="2" fill="#1e6eff"/>
<rect x="120" y="292" width="1" height="1" fill="#1e6eff"/>
<rect x="112" y="303" width="2" height="4" fill="#1e6eff"/>
<rect x="107" y="325" width="1" height="4" fill="#1e6eff"/>
<rect x="110" y="318" width="1" height="3" fill="#1e6eff"/>
<rect x="101" y="290" width="1" height="3" fill="#1e6eff"/>
<rect x="109" y="294" width="2" height="3" fill="#1e6eff"/>
<rect x="97" y="288" width="2" height="2" fill="#1e6eff"/>
<rect x="121" y="292" width="2" height="1" fill="#1e6eff"/>
<rect x="105" y="290" width="2" height="3" fill="#1e6eff"/>
<rect x="116" y="304" width="1" height="2" fill="#1e6eff"/>
<rect x="102" y="304" width="2" height="3" fill="#1e6eff"/>
<rect x="115" y="339" width="2" height="2" fill="#1e6eff"/>
<rect x="106" y="289" width="2" height="3" fill="#1e6eff"/>
<rect x="112" y="289" width="1" height="3" fill="#1e6eff"/>
<rect x="115" y="325" width="2" height="4" fill="#1e6eff"/>
<rect x="108" y="332" width="2" height="2" fill="#1e6eff"/>
<rect x="92" y="289" width="2" height="3" fill="#1e6eff"/>
<rect x="112" y="312" width="1" height="3" fill="#1e6eff"/>
<rect x="115" y="331" width="1" height="1" fill="#1e6eff"/>
<rect x="113" y="333" width="1" height="2" fill="#1e6eff"/>
<rect x="107" y="288" width="2" height="3" fill="#1e6eff"/>
<rect x="117" y="337" width="1" height="4" fill="#1e6eff"/>
<rect x="109" y="314" width="1" height="3" fill="#1e6eff"/>
<rect x="118" y="342" width="1" height="4" fill="#1e6eff"/>
<rect x="114" y="289" width="2" height="3" fill="#1e6eff"/>
<rect x="97" y="291" width="2" height="2" fill="#1e6eff"/>
<rect x="111" y="291" width="1" height="2" fill="#1e6eff"/>
<rect x="120" y="330" width="1" height="3" fill="#1e6eff"/>
<rect x="116" y="322" width="2" height="1" fill="#1e6eff"/>
<rect x="107" y="288" width="2" height="4" fill="#1e6eff"/>
<rect x="117" y="336" width="2" height="4" fill="#1e6eff"/>
<rect x="114" y="333" width="2" height="4" fill="#1e6eff"/>
<rect x="123" y="326" width="2" height="4" fill="#1e6eff"/>
<rect x="119" y="314" width="2" height="1" fill="#1e6eff"/>
<rect x="113" y="325" width="1" height="2" fill="#1e6eff"/>
<rect x="122" y="326" width="2" height="3" fill="#1e6eff"/>
<rect x="105" y="316" width="2" height="3" fill="#1e6eff"/>
<rect x="122" y="320" width="1" height="2" fill="#1e6eff"/>
<rect x="100" y="304" width="1" height="4" fill="#1e6eff"/>
<rect x="114" y="312" width="2" height="2" fill="#1e6eff"/>
<rect x="114" y="298" width="1" height="4" fill="#1e6eff"/>
<rect x="101" y="310" width="1" height="4" fill="#1e6eff"/>
<rect x="110" y="334" width="1" height="3" fill="#1e6eff"/>
<rect x="115" y="324" width="1" height="1" fill="#1e6eff"/>
<rect x="96" y="295" width="1" height="2" fill="#1e6eff"/>
<rect x="118" y="294" width="1" height="3" fill="#1e6eff"/>
<rect x="111" y="298" width="2" height="1" fill="#1e6eff"/>
<rect x="116" y="309" width="1" height="1" fill="#1e6eff"/>
<rect x="112" y="324" width="2" height="3" fill="#1e6eff"/>
<rect x="103" y="310" width="2" height="2" fill="#1e6eff"/>
<rect x="115" y="303" width="1" height="1" fill="#1e6eff"/>
<rect x="111" y="321" width="1" height="1" fill="#1e6eff"/>
<rect x="111" y="343" width="2" height="2" fill="#1e6eff"/>
<rect x="109" y="307" width="2" height="3" fill="#1e6eff"/>
<rect x="114" y="302" width="2" height="2" fill="#1e6eff"/>
<rect x="113" y="342" width="1" height="3" fill="#1e6eff"/>
<rect x="110" y="304" width="2" height="2" fill="#1e6eff"/>
<rect x="117" y="322" width="2" height="2" fill="#1e6eff"/>
<rect x="109" y="340" width="2" height="4" fill="#1e6eff"/>
<rect x="118" y="328" width="1" height="1" fill="#1e6eff"/>
<rect x="120" y="290" width="1" height="3" fill="#1e6eff"/>
<rect x="114" y="321" width="2" height="3" fill="#1e6eff"/>
<rect x="110" y="294" width="2" height="2" fill="#1e6eff"/>
<rect x="114" y="317" width="1" height="4" fill="#1e6eff"/>
<rect x="113" y="329" width="2" height="2" fill="#1e6eff"/>
<rect x="116" y="300" width="2" height="1" fill="#1e6eff"/>
<rect x="102" y="299" width="1" height="4" fill="#1e6eff"/>
<rect x="119" y="324" width="2" height="2" fill="#1e6eff"/>
<rect x="116" y="342" width="2" height="1" fill="#1e6eff"/>
<rect x="113" y="312" width="1" height="1" fill="#1e6eff"/>
<rect x="107" y="308" width="2" height="3" fill="#1e6eff"/>
<rect x="98" y="293" width="2" height="2" fill="#1e6eff"/>
<rect x="98" y="288" width="2" height="2" fill="#1e6eff"/>
<rect x="107" y="294" width="1" height="4" fill="#1e6eff"/>
<rect x="102" y="286" width="1" height="1" fill="#1e6eff"/>
<rect x="113" y="315" width="2" height="1" fill="#1e6eff"/>
<rect x="112" y="327" width="1" height="2" fill="#1e6eff"/>
<rect x="122" y="325" width="1" height="4" fill="#1e6eff"/>
<rect x="106" y="323" width="2" height="4" fill="#1e6eff"/>
<rect x="109" y="283" width="1" height="2" fill="#1e6eff"/>
<rect x="103" y="289" width="2" height="3" fill="#1e6eff"/>
<rect x="117" y="308" width="1" height="2" fill="#1e6eff"/>
<rect x="104" y="287" width="2" height="4" fill="#1e6eff"/>
<rect x="94" y="283" width="1" height="4" fill="#1e6eff"/>
<rect x="111" y="292" width="1" height="4" fill="#1e6eff"/>
<rect x="106" y="313" width="1" height="4" fill="#1e6eff"/>
<rect x="107" y="287" width="1" height="3" fill="#1e6eff"/>
<rect x="118" y="330" width="2" height="3" fill="#1e6eff"/>
<rect x="113" y="310" width="2" height="3" fill="#1e6eff"/>
<rect x="104" y="280" width="2" height="4" fill="#1e6eff"/>
<rect x="122" y="320" width="1" height="4" fill="#1e6eff"/>
<rect x="112" y="323" width="1" height="2" fill="#1e6eff"/>
<rect x="116" y="323" width="2" height="3" fill="#1e6eff"/>
<rect x="107" y="287" width="1" height="1" fill="#1e6eff"/>
<rect x="106" y="320" width="2" height="1" fill="#1e6eff"/>
<rect x="118" y="307" width="1" height="1" fill="#1e6eff"/>
<rect x="102" y="312" width="1" height="1" fill="#1e6eff"/>
<rect x="106" y="303" width="1" height="4" fill="#1e6eff"/>
<rect x="105" y="288" width="2" height="2" fill="#1e6eff"/>
<rect x="95" y="284" width="1" height="1" fill="#2a8aff"/>
<rect x="117" y="321" width="1" height="2" fill="#2a8aff"/>
<rect x="124" y="331" width="1" height="2" fill="#2a8aff"/>
<rect x="118" y="339" width="1" height="2" fill="#2a8aff"/>
<rect x="104" y="323" width="1" height="1" fill="#2a8aff"/>
<rect x="113" y="299" width="1" height="2" fill="#2a8aff"/>
<rect x="108" y="307" width="1" height="1" fill="#2a8aff"/>
<rect x="112" y="329" width="1" height="1" fill="#2a8aff"/>
<rect x="118" y="307" width="1" height="2" fill="#2a8aff"/>
<rect x="113" y="300" width="1" height="3" fill="#2a8aff"/>
<rect x="110" y="286" width="1" height="1" fill="#2a8aff"/>
<rect x="92" y="283" width="1" height="2" fill="#2a8aff"/>
<rect x="120" y="310" width="1" height="2" fill="#2a8aff"/>
<rect x="119" y="319" width="1" height="3" fill="#2a8aff"/>
<rect x="102" y="286" width="1" height="3" fill="#2a8aff"/>
<rect x="101" y="309" width="1" height="1" fill="#2a8aff"/>
<rect x="100" y="307" width="1" height="3" fill="#2a8aff"/>
<rect x="104" y="306" width="1" height="3" fill="#2a8aff"/>
<rect x="118" y="315" width="1" height="2" fill="#2a8aff"/>
<rect x="118" y="323" width="1" height="1" fill="#2a8aff"/>
<rect x="109" y="341" width="1" height="2" fill="#2a8aff"/>
<rect x="109" y="280" width="1" height="3" fill="#2a8aff"/>
<rect x="111" y="314" width="1" height="3" fill="#2a8aff"/>
<rect x="109" y="306" width="1" height="3" fill="#2a8aff"/>
<rect x="115" y="305" width="1" height="1" fill="#2a8aff"/>
<rect x="96" y="287" width="1" height="1" fill="#2a8aff"/>
<rect x="107" y="294" width="1" height="1" fill="#2a8aff"/>
<rect x="110" y="286" width="1" height="2" fill="#2a8aff"/>
<rect x="103" y="310" width="1" height="1" fill="#2a8aff"/>
<rect x="93" y="285" width="1" height="3" fill="#2a8aff"/>
<rect x="98" y="292" width="1" height="1" fill="#2a8aff"/>
<rect x="101" y="304" width="1" height="1" fill="#2a8aff"/>
<rect x="115" y="291" width="1" height="1" fill="#2a8aff"/>
<rect x="105" y="313" width="1" height="1" fill="#2a8aff"/>
<rect x="109" y="340" width="1" height="3" fill="#2a8aff"/>
<rect x="99" y="292" width="1" height="2" fill="#2a8aff"/>
<rect x="108" y="292" width="1" height="2" fill="#2a8aff"/>
<rect x="109" y="295" width="1" height="3" fill="#2a8aff"/>
<rect x="121" y="337" width="1" height="3" fill="#2a8aff"/>
<rect x="122" y="294" width="1" height="3" fill="#2a8aff"/>
<rect x="110" y="298" width="1" height="2" fill="#2a8aff"/>
<rect x="108" y="310" width="1" height="1" fill="#2a8aff"/>
<rect x="104" y="317" width="1" height="1" fill="#2a8aff"/>
<rect x="103" y="295" width="1" height="2" fill="#2a8aff"/>
<rect x="119" y="326" width="1" height="2" fill="#2a8aff"/>
<rect x="120" y="332" width="1" height="1" fill="#2a8aff"/>
<rect x="90" y="282" width="1" height="1" fill="#2a8aff"/>
<rect x="125" y="328" width="1" height="2" fill="#2a8aff"/>
<rect x="104" y="282" width="1" height="2" fill="#2a8aff"/>
<rect x="101" y="284" width="1" height="3" fill="#2a8aff"/>
<rect x="119" y="312" width="1" height="2" fill="#2a8aff"/>
<rect x="101" y="309" width="1" height="1" fill="#2a8aff"/>
<rect x="106" y="296" width="1" height="1" fill="#2a8aff"/>
<rect x="110" y="320" width="1" height="1" fill="#2a8aff"/>
<rect x="121" y="292" width="1" height="2" fill="#2a8aff"/>
<rect x="108" y="310" width="1" height="1" fill="#2a8aff"/>
<rect x="124" y="327" width="1" height="2" fill="#2a8aff"/>
<rect x="114" y="329" width="1" height="2" fill="#2a8aff"/>
<rect x="111" y="329" width="1" height="2" fill="#2a8aff"/>
<rect x="110" y="325" width="1" height="2" fill="#2a8aff"/>
<path d="M361.0 316.0 363.0 322.0 360.0 330.0 354.0 338.0 348.0 344.0 343.0 345.0 341.0 340.0 345.0 331.0 350.0 324.0 356.0 318.0Z" fill="#1e6eff"/>
<path d="M359.0 320.0 360.0 326.0 354.0 335.0 347.0 342.0 345.0 340.0 350.0 330.0 355.0 323.0Z" fill="#1478ff"/>
<rect x="357" y="331" width="1" height="1" fill="#1e6eff"/>
<rect x="355" y="324" width="1" height="2" fill="#1e6eff"/>
<rect x="355" y="337" width="1" height="2" fill="#1e6eff"/>
<rect x="358" y="334" width="1" height="1" fill="#1e6eff"/>
<rect x="354" y="334" width="1" height="2" fill="#1e6eff"/>
<rect x="354" y="337" width="1" height="1" fill="#1e6eff"/>
<rect x="351" y="336" width="1" height="2" fill="#1e6eff"/>
<rect x="346" y="333" width="1" height="2" fill="#1e6eff"/>
<rect x="359" y="320" width="1" height="2" fill="#1e6eff"/>
<rect x="354" y="335" width="1" height="2" fill="#1e6eff"/>
<rect x="355" y="334" width="1" height="2" fill="#1e6eff"/>
<rect x="355" y="319" width="1" height="1" fill="#1e6eff"/>
<rect x="347" y="330" width="1" height="1" fill="#1e6eff"/>
<rect x="347" y="337" width="1" height="1" fill="#1e6eff"/>
<rect x="345" y="338" width="1" height="1" fill="#1e6eff"/>
<rect x="350" y="336" width="1" height="1" fill="#1e6eff"/>
<rect x="354" y="335" width="1" height="1" fill="#1e6eff"/>
<rect x="362" y="323" width="1" height="1" fill="#1e6eff"/>
<rect x="344" y="338" width="1" height="2" fill="#1e6eff"/>
<rect x="351" y="339" width="1" height="1" fill="#1e6eff"/>
<rect x="363" y="326" width="1" height="1" fill="#1e6eff"/>
<rect x="355" y="336" width="1" height="1" fill="#1e6eff"/>
<rect x="354" y="326" width="1" height="2" fill="#1e6eff"/>
<rect x="342" y="344" width="1" height="2" fill="#1e6eff"/>
<rect x="359" y="327" width="1" height="2" fill="#1e6eff"/>
<rect x="362" y="325" width="1" height="2" fill="#1e6eff"/>
<rect x="350" y="341" width="1" height="1" fill="#1e6eff"/>
<rect x="345" y="342" width="1" height="2" fill="#1e6eff"/>
<rect x="361" y="317" width="1" height="1" fill="#1e6eff"/>
<rect x="353" y="322" width="1" height="1" fill="#1e6eff"/>
<rect x="359" y="333" width="1" height="1" fill="#1e6eff"/>
<rect x="348" y="342" width="1" height="2" fill="#1e6eff"/>
<rect x="362" y="320" width="1" height="1" fill="#1e6eff"/>
<rect x="346" y="343" width="1" height="2" fill="#1e6eff"/>
<rect x="347" y="336" width="1" height="2" fill="#1e6eff"/>
<rect x="354" y="332" width="1" height="2" fill="#1e6eff"/>
<rect x="352" y="323" width="1" height="2" fill="#1e6eff"/>
<rect x="351" y="330" width="1" height="1" fill="#1e6eff"/>
<rect x="358" y="316" width="1" height="2" fill="#1e6eff"/>
<rect x="363" y="317" width="1" height="1" fill="#1e6eff"/>
<rect x="335" y="348" width="1" height="1" fill="#2a8aff"/>
<rect x="334" y="348" width="1" height="1" fill="#2a8aff"/>
<rect x="335" y="350" width="1" height="2" fill="#2a8aff"/>
<rect x="331" y="349" width="1" height="2" fill="#2a8aff"/>
<rect x="331" y="356" width="1" height="2" fill="#2a8aff"/>
<rect x="332" y="346" width="1" height="1" fill="#2a8aff"/>
<rect x="330" y="349" width="1" height="1" fill="#2a8aff"/>
<rect x="331" y="347" width="1" height="1" fill="#2a8aff"/>
<rect x="331" y="353" width="1" height="2" fill="#2a8aff"/>
<rect x="334" y="349" width="1" height="2" fill="#2a8aff"/>
<rect x="455" y="300" width="1" height="2" fill="#1010c8"/>
<rect x="462" y="306" width="2" height="2" fill="#1010c8"/>
<rect x="489" y="303" width="2" height="6" fill="#1010c8"/>
<rect x="508" y="300" width="2" height="3" fill="#1010c8"/>
<rect x="507" y="307" width="2" height="3" fill="#1010c8"/>
<rect x="516" y="308" width="1" height="2" fill="#1010c8"/>
<rect x="554" y="305" width="2" height="3" fill="#1010c8"/>
<rect x="558" y="300" width="1" height="4" fill="#1010c8"/>
<rect x="579" y="305" width="1" height="4" fill="#1010c8"/>
<rect x="585" y="310" width="1" height="4" fill="#1010c8"/>
<rect x="596" y="305" width="1" height="5" fill="#1010c8"/>
<rect x="479" y="339" width="2" height="2" fill="#1010c8"/>
<rect x="485" y="343" width="2" height="2" fill="#1010c8"/>
<rect x="508" y="349" width="2" height="2" fill="#1010c8"/>
<rect x="516" y="346" width="2" height="3" fill="#1010c8"/>
<rect x="553" y="354" width="2" height="4" fill="#1010c8"/>
<rect x="588" y="367" width="2" height="4" fill="#1010c8"/>
<rect x="364" y="302" width="5" height="4" fill="#1010c8"/>
<rect x="366" y="300" width="3" height="3" fill="#1010c8"/>
<rect x="358" y="531" width="4" height="2" fill="#1010c8"/>
<rect x="512" y="295" width="2" height="5" fill="#1010c8"/>
<rect x="519" y="296" width="2" height="4" fill="#1010c8"/>
<rect x="557" y="295" width="2" height="5" fill="#1010c8"/>
<rect x="570" y="294" width="2" height="5" fill="#1010c8"/>
<rect x="418" y="297" width="5" height="2" fill="#1010c8"/>
<rect x="433" y="300" width="2" height="2" fill="#1010c8"/>
<rect x="442" y="300" width="1" height="3" fill="#1010c8"/>
<rect x="448" y="300" width="1" height="3" fill="#1010c8"/>
<rect x="455" y="300" width="1" height="3" fill="#1010c8"/>
<rect x="431" y="304" width="2" height="2" fill="#1010c8"/>
<rect x="375" y="302" width="1" height="1" fill="#1010c8"/>
<rect x="386" y="303" width="2" height="1" fill="#1010c8"/>
<rect x="405" y="303" width="1" height="2" fill="#1010c8"/>
<rect x="411" y="301" width="1" height="2" fill="#1010c8"/>
<rect x="463" y="305" width="2" height="2" fill="#1010c8"/>
<path d="M266 57.5h4v-1.5h4v-1.5h-4v1.5h-4z" fill="#1040ff"/>
<rect x="282" y="273" width="1" height="3" fill="#1010c8"/>
<rect x="284" y="270" width="1" height="2" fill="#1010c8"/>
<rect x="284" y="274" width="1" height="3" fill="#1010c8"/>
<rect x="278" y="273" width="1" height="2" fill="#1010c8"/>
<rect x="289" y="278" width="1" height="3" fill="#1010c8"/>
<rect x="288" y="270" width="1" height="2" fill="#1010c8"/>
<rect x="290" y="276" width="1" height="3" fill="#1010c8"/>
<rect x="290" y="278" width="1" height="1" fill="#1010c8"/>
<rect x="285" y="271" width="1" height="2" fill="#1010c8"/>
<rect x="278" y="278" width="1" height="1" fill="#1010c8"/>
<rect x="287" y="276" width="1" height="2" fill="#1010c8"/>
<rect x="282" y="276" width="1" height="1" fill="#1010c8"/>
<rect x="291" y="277" width="1" height="2" fill="#1010c8"/>
<rect x="279" y="277" width="1" height="2" fill="#1010c8"/>
<rect x="287" y="290" width="1" height="3" fill="#1010c8"/>
<rect x="286" y="290" width="1" height="2" fill="#1010c8"/>
<rect x="296" y="298" width="1" height="2" fill="#1010c8"/>
<rect x="298" y="287" width="1" height="1" fill="#1010c8"/>
<rect x="294" y="291" width="1" height="2" fill="#1010c8"/>
<rect x="293" y="297" width="1" height="2" fill="#1010c8"/>
<rect x="289" y="299" width="1" height="3" fill="#1010c8"/>
<rect x="291" y="293" width="1" height="3" fill="#1010c8"/>
<rect x="298" y="289" width="1" height="2" fill="#1010c8"/>
<rect x="285" y="289" width="1" height="2" fill="#1010c8"/>
<rect x="295" y="295" width="1" height="1" fill="#1010c8"/>
<rect x="292" y="298" width="1" height="1" fill="#1010c8"/>
<rect x="294" y="295" width="1" height="1" fill="#1010c8"/>
<rect x="296" y="294" width="1" height="1" fill="#1010c8"/>
<rect x="316" y="281" width="1" height="2" fill="#1010c8"/>
<rect x="303" y="286" width="1" height="3" fill="#1010c8"/>
<rect x="315" y="279" width="1" height="2" fill="#1010c8"/>
<rect x="313" y="282" width="1" height="2" fill="#1010c8"/>
<rect x="312" y="283" width="1" height="1" fill="#1010c8"/>
<rect x="308" y="279" width="1" height="3" fill="#1010c8"/>
<rect x="302" y="283" width="1" height="2" fill="#1010c8"/>
<rect x="317" y="279" width="1" height="1" fill="#1010c8"/>
<rect x="310" y="286" width="1" height="3" fill="#1010c8"/>
<rect x="315" y="280" width="1" height="2" fill="#1010c8"/>
<rect x="393" y="215" width="1" height="2" fill="#1010c8"/>
<rect x="411" y="223" width="1" height="3" fill="#1010c8"/>
<rect x="395" y="208" width="1" height="1" fill="#1010c8"/>
<rect x="405" y="223" width="1" height="1" fill="#1010c8"/>
<rect x="405" y="214" width="1" height="3" fill="#1010c8"/>
<rect x="388" y="205" width="1" height="3" fill="#1010c8"/>
<rect x="395" y="209" width="1" height="1" fill="#1010c8"/>
<rect x="395" y="208" width="1" height="3" fill="#1010c8"/>
<rect x="416" y="232" width="1" height="1" fill="#1010c8"/>
<rect x="383" y="204" width="1" height="1" fill="#1010c8"/>
<rect x="383" y="207" width="1" height="2" fill="#1010c8"/>
<rect x="399" y="210" width="1" height="3" fill="#1010c8"/>
<rect x="387" y="213" width="1" height="3" fill="#1010c8"/>
<rect x="403" y="212" width="1" height="3" fill="#1010c8"/>
<rect x="393" y="207" width="1" height="3" fill="#1010c8"/>
<rect x="400" y="210" width="1" height="2" fill="#1010c8"/>
<rect x="390" y="208" width="1" height="2" fill="#1010c8"/>
<rect x="396" y="206" width="1" height="3" fill="#1010c8"/>
<rect x="380" y="207" width="1" height="1" fill="#1010c8"/>
<rect x="415" y="235" width="1" height="2" fill="#1010c8"/>
<rect x="398" y="214" width="1" height="1" fill="#1010c8"/>
<rect x="409" y="230" width="1" height="1" fill="#1010c8"/>
<rect x="395" y="247" width="1" height="2" fill="#1010c8"/>
<rect x="403" y="242" width="1" height="3" fill="#1010c8"/>
<rect x="397" y="244" width="1" height="2" fill="#1010c8"/>
<rect x="394" y="246" width="1" height="1" fill="#1010c8"/>
<rect x="403" y="244" width="1" height="2" fill="#1010c8"/>
<rect x="399" y="244" width="1" height="1" fill="#1010c8"/>
<rect x="407" y="246" width="1" height="2" fill="#1010c8"/>
<rect x="400" y="247" width="1" height="3" fill="#1010c8"/>
<rect x="406" y="245" width="1" height="1" fill="#1010c8"/>
<rect x="406" y="245" width="1" height="3" fill="#1010c8"/>
<rect x="390" y="244" width="1" height="2" fill="#1010c8"/>
<rect x="389" y="244" width="1" height="1" fill="#1010c8"/>
<rect x="443" y="235" width="1" height="2" fill="#1010c8"/>
<rect x="441" y="230" width="1" height="3" fill="#1010c8"/>
<rect x="433" y="221" width="1" height="3" fill="#1010c8"/>
<rect x="429" y="209" width="1" height="1" fill="#1010c8"/>
<rect x="439" y="230" width="1" height="1" fill="#1010c8"/>
<rect x="443" y="222" width="1" height="2" fill="#1010c8"/>
<rect x="437" y="204" width="1" height="1" fill="#1010c8"/>
<rect x="448" y="240" width="1" height="3" fill="#1010c8"/>
<rect x="449" y="240" width="1" height="3" fill="#1010c8"/>
<rect x="438" y="223" width="1" height="3" fill="#1010c8"/>
<rect x="432" y="211" width="1" height="1" fill="#1010c8"/>
<rect x="445" y="242" width="1" height="3" fill="#1010c8"/>
<rect x="448" y="233" width="1" height="3" fill="#1010c8"/>
<rect x="436" y="226" width="1" height="2" fill="#1010c8"/>
<rect x="434" y="215" width="1" height="1" fill="#1010c8"/>
<rect x="436" y="224" width="1" height="3" fill="#1010c8"/>
<rect x="440" y="219" width="1" height="3" fill="#1010c8"/>
<rect x="434" y="205" width="1" height="2" fill="#1010c8"/>
<rect x="434" y="207" width="1" height="3" fill="#1010c8"/>
<rect x="434" y="220" width="1" height="2" fill="#1010c8"/>
<rect x="446" y="259" width="1" height="3" fill="#1010c8"/>
<rect x="446" y="258" width="1" height="1" fill="#1010c8"/>
<rect x="458" y="268" width="1" height="1" fill="#1010c8"/>
<rect x="450" y="265" width="1" height="2" fill="#1010c8"/>
<rect x="454" y="259" width="1" height="2" fill="#1010c8"/>
<rect x="443" y="255" width="1" height="1" fill="#1010c8"/>
<rect x="458" y="255" width="1" height="3" fill="#1010c8"/>
<rect x="450" y="261" width="1" height="1" fill="#1010c8"/>
<rect x="456" y="261" width="1" height="3" fill="#1010c8"/>
<rect x="457" y="259" width="1" height="1" fill="#1010c8"/>
<rect x="356" y="256" width="1" height="2" fill="#1010c8"/>
<rect x="351" y="263" width="1" height="3" fill="#1010c8"/>
<rect x="359" y="259" width="1" height="1" fill="#1010c8"/>
<rect x="348" y="262" width="1" height="2" fill="#1010c8"/>
<rect x="355" y="255" width="1" height="2" fill="#1010c8"/>
<rect x="349" y="255" width="1" height="2" fill="#1010c8"/>
<rect x="318" y="240" width="2" height="2" fill="#1e6eff"/>
<rect x="335" y="257" width="1" height="2" fill="#1e6eff"/>
<rect x="322" y="247" width="1" height="2" fill="#1e6eff"/>
<rect x="335" y="246" width="2" height="2" fill="#1e6eff"/>
<rect x="320" y="242" width="1" height="1" fill="#1e6eff"/>
<rect x="320" y="244" width="1" height="2" fill="#1e6eff"/>
<rect x="325" y="240" width="1" height="2" fill="#1e6eff"/>
<rect x="328" y="240" width="2" height="2" fill="#1e6eff"/>
<rect x="321" y="249" width="1" height="2" fill="#1e6eff"/>
<rect x="325" y="262" width="1" height="2" fill="#1e6eff"/>
<rect x="333" y="246" width="1" height="2" fill="#1e6eff"/>
<rect x="326" y="262" width="2" height="1" fill="#1e6eff"/>
<rect x="324" y="250" width="2" height="1" fill="#1e6eff"/>
<rect x="332" y="240" width="2" height="1" fill="#1e6eff"/>
<rect x="336" y="258" width="2" height="2" fill="#1e6eff"/>
<rect x="329" y="240" width="2" height="2" fill="#1e6eff"/>
<rect x="336" y="254" width="2" height="1" fill="#1e6eff"/>
<rect x="325" y="257" width="2" height="2" fill="#1e6eff"/>
<rect x="326" y="257" width="2" height="2" fill="#1e6eff"/>
<rect x="327" y="257" width="1" height="1" fill="#1e6eff"/>
<rect x="334" y="251" width="2" height="1" fill="#1e6eff"/>
<rect x="323" y="259" width="2" height="1" fill="#1e6eff"/>
<rect x="320" y="243" width="1" height="2" fill="#1e6eff"/>
<rect x="324" y="241" width="1" height="2" fill="#1e6eff"/>
<rect x="319" y="240" width="1" height="2" fill="#1e6eff"/>
<rect x="323" y="290" width="1" height="1" fill="#1e6eff"/>
<rect x="324" y="294" width="2" height="1" fill="#1e6eff"/>
<rect x="325" y="295" width="2" height="2" fill="#1e6eff"/>
<rect x="327" y="289" width="1" height="1" fill="#1e6eff"/>
<rect x="323" y="287" width="1" height="2" fill="#1e6eff"/>
<rect x="324" y="291" width="2" height="1" fill="#1e6eff"/>
<rect x="326" y="297" width="2" height="2" fill="#1e6eff"/>
<rect x="333" y="296" width="2" height="2" fill="#1e6eff"/>
<rect x="328" y="293" width="2" height="1" fill="#1e6eff"/>
<rect x="324" y="286" width="2" height="1" fill="#1e6eff"/>
<rect x="328" y="287" width="2" height="1" fill="#1e6eff"/>
<rect x="326" y="298" width="1" height="2" fill="#1e6eff"/>
<rect x="330" y="292" width="1" height="1" fill="#1e6eff"/>
<rect x="328" y="287" width="2" height="2" fill="#1e6eff"/>
<rect x="327" y="293" width="1" height="2" fill="#1e6eff"/>
<rect x="323" y="292" width="1" height="1" fill="#1e6eff"/>
<rect x="248" y="359" width="1" height="2" fill="#1e6eff"/>
<rect x="245" y="362" width="1" height="1" fill="#1e6eff"/>
<rect x="252" y="360" width="1" height="1" fill="#1e6eff"/>
<rect x="249" y="363" width="2" height="1" fill="#1e6eff"/>
<rect x="252" y="360" width="1" height="2" fill="#1e6eff"/>
<rect x="370" y="207" width="2" height="2" fill="#1e6eff"/>
<rect x="391" y="209" width="2" height="1" fill="#1e6eff"/>
<rect x="383" y="212" width="2" height="1" fill="#1e6eff"/>
<rect x="376" y="211" width="1" height="1" fill="#1e6eff"/>
<rect x="388" y="213" width="1" height="2" fill="#1e6eff"/>
<rect x="362" y="208" width="1" height="2" fill="#1e6eff"/>
<rect x="378" y="210" width="1" height="2" fill="#1e6eff"/>
<rect x="376" y="207" width="1" height="2" fill="#1e6eff"/>
<rect x="366" y="208" width="1" height="1" fill="#1e6eff"/>
<rect x="360" y="209" width="2" height="1" fill="#1e6eff"/>
<rect x="366" y="208" width="1" height="1" fill="#1e6eff"/>
<rect x="389" y="210" width="1" height="1" fill="#1e6eff"/>
<rect x="376" y="211" width="2" height="2" fill="#1e6eff"/>
<rect x="378" y="213" width="2" height="2" fill="#1e6eff"/>
</g>
<path fill-rule="evenodd" fill="rgba(83,90,150,0.30)" d="M0 0H600V600H0Z M300 297.6 m-300.5 0 a300.5 300.5 0 1 0 601 0 a300.5 300.5 0 1 0 -601 0Z"/>
<circle class="ln" cx="300" cy="298.8" r="199.4"/>
<circle class="ln" cx="300" cy="297.4" r="399.5"/>
<path class="ln" d="M177 0L168.5 600"/>
<path class="ln" d="M413.5 0L423 600"/>
<path class="ln" d="M0 231.2Q300 238 600 231.6"/>
<path class="gl" d="M0 35 L5 35 L10 32.5 L15 33.8 L20 32.5 L25 33.8 L28.8 32.5 L29.5 26.2 L32.5 21.2 L37.5 18.8 L41.2 20 L45 23.8 L47.5 20 L47 12.5 L48.8 5 L50 0"/>
<path class="gl" d="M88.8 0 L86.2 5 L81.2 6.2 L80 10 L85 12.5 L86.2 17.5 L82.5 23.8 L77.5 28.8 L71.2 30 L72.5 33.8 L75 37.5 L70 41.2 L68.8 50 L66.2 55 L62.5 60 L58.8 62.5 L61.2 65.5 L67.5 64.5 L71.2 66.2 L68.8 70 L60 72.5 L56.2 75 L52.5 78.8 L46.2 81.2 L40 80.5 L37.5 86.2 L31.2 92.5 L26.2 96.2 L22.5 95 L20 90 L20.5 82.5 L17 80 L13 81.2 L12 87.5 L11.2 95 L5 97.5 L0 96.2"/>
<path class="gl" d="M5.5 15 L7.5 12 L10.5 12.5 L12.5 10.5 L13.8 13 L17 13.8 L16.5 17 L18 19.5 L15.5 21.2 L13.8 23.8 L10.5 22.5 L7.5 23 L6 20 L3.8 18.8Z"/>
<path class="gl" d="M157.5 0 L160 3.8 L158.8 8.8 L155 13.8 L153.8 22.5 L157.5 27.5 L158.8 33.8 L162.5 37.5 L165 37.5 L168.8 42.5 L173.8 47.5 L177.5 53.8 L182.5 57.5 L187.5 58.8 L191.2 53.8 L192.5 47.5 L197.5 46.2 L201.2 43.8 L200 50 L202.5 55 L208.8 56.2 L211.2 58.8 L216.2 56.2 L218 51.2 L216.2 47.5 L211.2 46.2 L210 42.5 L213.8 38.8 L218.8 37.5 L220 40 L227.5 38.8 L233.8 35 L237.5 27.5 L240 18.8 L241.2 10 L243 3.8 L241.2 0"/>
<path class="gl" d="M297.3 38.4 L296.3 32.3 L299.4 26.3 L303.4 23.2 L305 21 L308.5 20.2 L310 21.5 L312.5 18.6 L315 19.8 L317.6 20.2 L321.2 19.2 L318.6 24.3 L317 25 L315.5 28.3 L313 29 L311.5 32.3 L309.5 36 L307 35.5 L304.4 36.8 L301.4 38.8Z"/>
<path class="gl" d="M600 43.8 L593.8 46.2 L590 53.8 L586.2 48.8 L590 42.5 L591.2 35 L586.2 32.5 L580 37.5 L575 43.8 L567.5 46.2 L561.2 43.8 L557.5 36.2 L551.2 33.8 L545 37.5 L540 32.5 L535 27.5 L528.8 21.2 L523.8 25 L521.2 18.8 L515 15.5 L508.8 17.5 L503.8 21.2 L497.5 27.5 L490 31.2 L483.8 35 L477.5 42.5 L471.2 50 L465 56.2 L457.5 61.2 L453.8 62.5 L452.5 58.8 L456.2 55 L462.5 50 L463.8 45 L460 38.8 L457.5 33.8 L453.8 37.5 L452.5 45 L450 48.8 L447.5 51.2 L442.5 52.5 L444.5 45 L446.2 37.5 L450 28.8 L453.8 25 L455.5 17.5 L453.8 11.2 L450 7.5 L450 7.5 L437.5 5.5 L425 6.2 L412.5 6.2 L405 10 L398.8 16.2 L393.8 21.2 L387.5 22.5 L380 19.5 L372.5 20 L365 25 L358.8 30 L353.8 33.8 L348.8 35 L346.2 40 L348.8 46.2 L342.5 47.5 L340 53.8 L336.2 57.5 L333.8 65 L326.2 61.2 L318.8 60 L311.2 63.8 L305 70 L300 77.5 L299 80 L298 86 L300 92.5 L307 96 L312.5 98 L315.5 100 L317 108 L314 102.5 L305 102.5 L300 105 L296 109 L291 112.5 L289 117.5 L290 122.5 L294 125 L295.5 128 L292.5 129 L286 132.5 L280 137.5 L275 144 L271 150 L271 155 L274 161 L279 165 L284 169 L286 174 L284 179 L287.5 184 L292.5 187.5 L294 194 L292 199 L295 204 L300 209 L307.5 212.5 L315 215 L322.5 212.5 L329 206 L332 199 L332.5 191 L329 187.5 L330 180 L332.5 179 L334 185 L337.5 190 L344 190 L347.5 186 L346 181 L350 179 L352.5 182.5 L359 181 L360 176 L364 175 L369 177.5 L372.5 182.5 L375 190 L374 200 L374.5 212.5 L374 222.5 L371 229 L365 231 L364 236 L369 241 L377.5 245 L387.5 244.5 L396 241 L402.5 235 L407.5 227.5 L406 222.5 L401 219 L396 214 L391 211 L395 207.5 L401 206 L400 202.5 L407.5 204 L410 204 L414.7 202.3 L420.5 201.7 L426.3 202.3 L428.7 204.6 L427.5 207.5 L425.2 209.8 L422.8 211.6 L424.6 213.3 L428.1 212.2 L431 209.8 L433.3 207.5 L436.3 208.1 L438.6 209.3 L435.7 211.6 L432.8 213.3 L429.8 216.3 L427.5 220.3 L425.8 225 L424.6 229.1 L426.3 231.4 L429.3 232 L431 230.3 L431.6 226.2 L433.3 221.5 L435.7 218.6 L438.6 216.8 L441.5 217.4 L444.4 219.8 L446.8 222.1 L447.4 225 L445 226.2 L441.5 226.8 L438 227.9 L435.1 230.3 L432.8 233.2 L431 236.1 L433.3 237.9 L436.3 236.1 L439.2 233.8 L442.7 231.4 L446.2 230.9 L449.7 232.6 L452.6 233.8 L449.7 234.9 L446.2 236.1 L442.7 237.9 L440.3 240.2 L439.8 243.7 L442.1 244.9 L445 243.7 L447.4 245.4 L450.3 244.3 L451.4 247.2 L454.4 248.4 L456.7 250.7 L459.6 248.9 L461.9 251.3 L464.9 249.5 L467.2 250.1 L469.5 248.4 L470.7 250.7 L470.1 246 L468.9 242.5 L470.7 239.6 L473 236.7 L475.4 234.9 L477.7 235.5 L475.4 237.9 L473 241.4 L471.3 244.3 L473 246.6 L476 248.9 L479.5 250.7 L482.4 251.3 L483.5 249.5 L481.2 247.2 L477.7 244.9 L475.4 242.5 L477.1 239.6 L480 237.3 L482.4 234.9 L484.7 233.8 L482.4 232 L478.9 230.9 L475.4 229.7 L473 230.3 L475.4 228.5 L478.9 227.9 L482.4 229.1 L485.9 230.9 L489.4 232.6 L491.7 230.9 L492.3 227.4 L491.1 223.9 L489.4 220.9 L491.7 222.7 L495.2 221.5 L500 219.2 L502.5 220 L510 221.2 L516.2 217.5 L517.5 210 L521.2 203.8 L518.8 198.8 L512.5 196.2 L506.2 191.2 L503.8 185 L503.8 177.5 L506.2 170 L515 168.8 L516.2 162.5 L522.5 160 L530 159.5 L536.2 162.5 L545 166.2 L552.5 162.5 L560 163.8 L567.5 160 L575 157.5 L577.5 152.5 L570 150"/>
<path class="gl" d="M473.6 219.2 L475.4 217.4 L477.7 214.5 L480 212.8 L483 212.2 L484.7 213.9 L485.9 216.8 L487.6 219.8 L489.4 222.7 L487 224.4 L483.5 223.9 L480 222.7 L476.5 220.9Z"/>
<path class="gl" d="M507.5 171.2 L515 173.8 L520 172.5 L523.8 175 L522.5 180 L518.8 183.8 L516.2 188.8 L512.5 187.5 L511.2 181.2 L507.5 176.2Z"/>
<path class="gl" d="M600 88.3 L595 89.2 L592.5 93.3 L591.7 99.2 L594.2 102.5 L598.3 103.3 L600 103.3"/>
<path class="gl" d="M600 118.3 L598.3 117.5 L594.2 115 L590 110.8 L588.3 105.8 L585.8 100.8 L582.5 99.2 L580 102.5 L577.5 105.8 L581.7 108.3 L585.8 111.7 L587.5 114.2 L583.3 113.7 L578.3 110.8 L575 110 L575.8 114.2 L573.3 117.5 L571.7 119.2 L574.2 123.3 L577.5 127.5 L581.7 132.5 L586.7 135 L590.8 135.8 L592.5 139.2 L590 141.7 L586.7 140.8 L584.2 143.3 L581.7 140.8 L578.3 137.5 L575 133.3 L571.7 128.3 L570 123.3 L570.8 119.2 L571.7 119.2"/>
<path class="gl" d="M577.5 151.7 L575.8 149.2 L570 150 L564.2 148.3 L558.3 147.5 L554.2 148.3 L555.8 150.8 L560 153.3 L563.3 155.8 L568.3 155 L575 154.2Z"/>
<path class="gl" d="M577.5 148.3 L578.3 144.2 L577.5 140 L575 136.7 L573.3 133.3 L570.8 130 L567.5 130 L563.3 132.5 L560.8 130.8 L560 125.8 L558.7 127.5 L555.8 129.2 L550.8 130.8 L546.7 131.7 L549.2 134.2 L552.5 135.8 L555.8 139.2 L560 140.8 L565 143.3 L570 145 L574.2 147Z"/>
<path class="gl" d="M165.5 265 L168.8 260 L173.8 258 L177.5 258.8 L179.5 262.5 L176.2 267 L171.2 270 L167.5 268.8Z"/>
<path class="gl" d="M143.4 297.5 L148.9 294.8 L156.2 292.9 L165.4 290.5 L172.7 291.1 L180 293.8 L184.6 297.5 L187.4 302.1 L191 304.8 L194.7 309.4 L195.1 314 L191 315.8 L186.4 317.7 L184.1 321.3 L185.5 325 L190.1 326.8 L193.2 329.6 L192 333.3 L188.3 336 L183.7 337.9 L178.2 336.9 L183.7 339.7 L191 341.5 L196.5 343.4 L200.2 347.9 L200.6 353.4 L197.5 358 L192 360.8 L187.4 359.9 L182.8 358 L178.2 359.9 L175.4 361.7 L170.9 360.8 L167.2 365.4 L163.5 361.7 L159.9 360.8 L156.2 363.5 L152.5 359.9 L147.9 361.7 L145.2 358.9 L143.4 367.2 L142.4 361.7 L140.6 356.2 L137.9 352.5 L135.1 358 L130.5 363.5 L125.9 364.4 L130.5 359.9 L133.3 355.3 L134.2 350.7 L132.4 347 L129.6 349.8 L128.7 345.2 L125 344.3 L122.3 340.6 L121.3 336 L124.1 333.3 L126.8 332.4 L130.5 334.2 L133.3 331.4 L129.6 328.7 L126.8 325 L129.6 322.3 L133.3 323.2 L136 317.7 L133.3 314.9 L128.7 316.8 L133.3 314 L138.8 315.8 L140.6 320.4 L138.8 314.9 L136 309.4 L132.4 306.7 L135.1 302.1 L138.8 303.9 L143.4 309.4 L147.9 315.8 L150.7 319.1 L147 313.1 L142.4 305.8 L141.5 301.2Z"/>
<path class="gl" d="M80.1 329.6 L83.8 330.5 L87.4 328.7 L91.1 329.6 L94.8 324.1 L95.7 328.7 L99.3 330.5 L103 326.8 L105.8 329.6 L109.4 328.7 L113.1 332.4 L115.8 335.1 L114 338.8 L111.3 342.4 L108.5 345.2 L105.8 347 L103.9 349.8 L100.3 347 L96.6 348.9 L92.9 346.1 L88.3 345.2 L84.7 342.4 L81.9 339.7 L81 335.1Z"/>
<path class="gl" d="M93.5 290.5 L97.5 288.3 L103 288 L107.6 290.2 L109.4 293.5 L105.8 292.9 L102.1 294.8 L97.5 295.7 L94.8 292.9Z"/>
<path class="co" d="M0 336 L5 341 L10 347.5 L17.5 355 L25 360 L32.5 362 L45 361 L57.5 359.5 L66 359.5 L75 362.5 L85 367.5 L95 372.5 L105 376 L115 381 L125 386 L135 391 L142.5 394.5 L150 396 L160 398 L172.5 400.5 L185 403 L197.5 405 L209 404.5 L220 399.5 L232.5 395 L245 391 L257.5 387.5 L272.5 384 L285 379 L295 372.5 L300 370 L305 365 L310 356 L311 347.5 L305 346 L300 342.5 L298 338 L297.5 330 L300 325 L312.5 311 L330 316 L345 310 L357.5 305 L370 300.6 L377.1 297.1 L383.1 294.1 L387.8 292.3 L393.8 293.2 L415.2 293.2 L416.4 275.7 L417.6 267.3 L421.1 259 L423.5 262 L429.5 269.7 L436.6 278 L441.3 283.8 L447.3 281 L455.6 277.5 L463.9 273.3 L470 269.7 L480 261 L486 256 L492 246 L499 236 L506 230 L514 225 L523 217 L531 207 L534 200 L535 197 L540 195 L548 190 L556 185 L564 179 L570 174 L576 170 L584 167 L592 165 L600 162"/>
<path class="co" d="M0 293.7 L2.7 295 L5.3 296.7 L7.3 299.3 L9.3 302.7 L11.3 305.3 L11 306.7 L9.3 307 L7.3 306.3 L5.3 304 L3.3 301.3 L1.7 299 L0 297.7"/>
<text class="grid" x="183.19" y="18.60" textLength="39.43" lengthAdjust="spacingAndGlyphs">19° W</text>
<text class="grid" x="418.79" y="18.60" textLength="39.43" lengthAdjust="spacingAndGlyphs">17° W</text>
<text class="grid" x="278.36" y="94.60" textLength="50.59" lengthAdjust="spacingAndGlyphs">80.0 km</text>
<text class="grid" x="278.36" y="512.00" textLength="50.59" lengthAdjust="spacingAndGlyphs">80.0 km</text>
<text class="grid" x="5.32" y="230.40" textLength="35.93" lengthAdjust="spacingAndGlyphs">64° N</text>
<text class="grid" x="558.12" y="231.00" textLength="35.93" lengthAdjust="spacingAndGlyphs">64° N</text>
<text class="grid" x="173.19" y="597.60" textLength="39.43" lengthAdjust="spacingAndGlyphs">19° W</text>
<text class="grid" x="427.19" y="597.60" textLength="39.43" lengthAdjust="spacingAndGlyphs">17° W</text>
<text class="lab" x="20.57" y="188.80" textLength="44.31" lengthAdjust="spacingAndGlyphs">4.5 km</text>
<text class="lab" x="213.87" y="237.60" textLength="44.31" lengthAdjust="spacingAndGlyphs">4.7 km</text>
<text class="lab" x="227.80" y="274.60" textLength="44.69" lengthAdjust="spacingAndGlyphs">5.3 km</text>
<text class="lab" x="190.57" y="299.60" textLength="44.31" lengthAdjust="spacingAndGlyphs">4.0 km</text>
<text class="lab" x="86.50" y="312.60" textLength="44.69" lengthAdjust="spacingAndGlyphs">5.2 km</text>
<text class="lab" x="223.50" y="330.60" textLength="44.69" lengthAdjust="spacingAndGlyphs">5.3 km</text>
<text class="lab" x="196.87" y="343.80" textLength="44.31" lengthAdjust="spacingAndGlyphs">4.3 km</text>
<text class="lab" x="331.70" y="333.90" textLength="44.69" lengthAdjust="spacingAndGlyphs">5.4 km</text>
<text class="lab" x="357.00" y="210.60" textLength="44.69" lengthAdjust="spacingAndGlyphs">5.6 km</text>
<text class="lab" x="384.15" y="246.20" textLength="44.54" lengthAdjust="spacingAndGlyphs">0.9 km</text>
<text class="lab" x="357.15" y="257.20" textLength="44.54" lengthAdjust="spacingAndGlyphs">0.5 km</text>
<text class="lab" x="431.15" y="263.60" textLength="44.54" lengthAdjust="spacingAndGlyphs">0.8 km</text>
<text class="lab" x="374.15" y="295.20" textLength="44.54" lengthAdjust="spacingAndGlyphs">0.9 km</text>
<g fill="#1a2e9e" font-weight="bold" style="font-family:'Liberation Sans','DejaVu Sans',sans-serif">
<text x="510.5" y="549.8" font-size="14.4" textLength="79" lengthAdjust="spacingAndGlyphs" style="font-family:'Liberation Sans',sans-serif">Icelandic Met</text>
<text x="510.5" y="567" font-size="14.4" textLength="34" lengthAdjust="spacingAndGlyphs" style="font-family:'Liberation Sans',sans-serif">Office</text>
</g>
<path d="M567 554.5L574.6 560.8L567 567Z" fill="#a9c1ea"/>
<path d="M553.8 575L561.7 568L569.5 575Z" fill="#7fa9e2"/>
<path d="M573.8 567.5H588.8L581.3 575Z" fill="#1128b2"/>
<path d="M574.6 574.4V588.8L567 581.3Z" fill="#2161c8"/>
</g>
<text class="ttl" x="664.48" y="25.00" textLength="112.33" lengthAdjust="spacingAndGlyphs">EHT (Height)</text>
<text class="ttl" x="630.03" y="47.00" textLength="181.39" lengthAdjust="spacingAndGlyphs">10:15 / 27-Oct-2018</text>
<text class="ttl" x="654.40" y="68.80" textLength="132.59" lengthAdjust="spacingAndGlyphs">Mobile radar 1</text>
<g shape-rendering="crispEdges">
<rect x="612" y="80" width="74" height="9" fill="#600000"/>
<rect x="612" y="89" width="74" height="8" fill="#780000"/>
<rect x="612" y="97" width="74" height="9" fill="#800000"/>
<rect x="612" y="106" width="74" height="8" fill="#8c0000"/>
<rect x="612" y="114" width="74" height="9" fill="#9e0000"/>
<rect x="612" y="123" width="74" height="9" fill="#b00000"/>
<rect x="612" y="132" width="74" height="8" fill="#c40000"/>
<rect x="612" y="140" width="74" height="9" fill="#e02000"/>
<rect x="612" y="149" width="74" height="8" fill="#ff4000"/>
<rect x="612" y="157" width="74" height="9" fill="#ff5c08"/>
<rect x="612" y="166" width="74" height="9" fill="#ff7808"/>
<rect x="612" y="175" width="74" height="8" fill="#ff9600"/>
<rect x="612" y="183" width="74" height="9" fill="#ffb008"/>
<rect x="612" y="192" width="74" height="8" fill="#ffcc00"/>
<rect x="612" y="200" width="74" height="9" fill="#ffe600"/>
<rect x="612" y="209" width="74" height="9" fill="#ffee66"/>
<rect x="612" y="218" width="74" height="8" fill="#fff6c8"/>
<rect x="612" y="226" width="74" height="9" fill="#fff6c8"/>
<rect x="612" y="235" width="74" height="9" fill="#fffbe6"/>
<rect x="612" y="244" width="74" height="8" fill="#ffffff"/>
<rect x="612" y="252" width="74" height="9" fill="#b9f7ff"/>
<rect x="612" y="261" width="74" height="8" fill="#86efff"/>
<rect x="612" y="269" width="74" height="9" fill="#6ae0ff"/>
<rect x="612" y="278" width="74" height="9" fill="#50d0ff"/>
<rect x="612" y="287" width="74" height="8" fill="#35b4ff"/>
<rect x="612" y="295" width="74" height="9" fill="#209fff"/>
<rect x="612" y="304" width="74" height="8" fill="#1090ff"/>
<rect x="612" y="312" width="74" height="9" fill="#007cff"/>
<rect x="612" y="321" width="74" height="9" fill="#0050ff"/>
<rect x="612" y="330" width="74" height="8" fill="#0030ff"/>
<rect x="612" y="338" width="74" height="9" fill="#0010d8"/>
<rect x="612" y="347" width="74" height="8" fill="#0000c0"/>
<rect x="612" y="355" width="74" height="9" fill="#2000a8"/>
<rect x="612" y="364" width="74" height="9" fill="#3a009c"/>
<rect x="612.00" y="374" width="7.00" height="7" fill="#f2f2f2"/>
<rect x="619.00" y="374" width="7.00" height="7" fill="#ffffff"/>
<rect x="626.00" y="374" width="7.00" height="7" fill="#f2f2f2"/>
<rect x="633.00" y="374" width="7.00" height="7" fill="#ffffff"/>
<rect x="640.00" y="374" width="7.00" height="7" fill="#f2f2f2"/>
<rect x="647.00" y="374" width="7.00" height="7" fill="#ffffff"/>
<rect x="654.00" y="374" width="7.00" height="7" fill="#f2f2f2"/>
<rect x="661.00" y="374" width="7.00" height="7" fill="#ffffff"/>
<rect x="668.00" y="374" width="7.00" height="7" fill="#f2f2f2"/>
<rect x="675.00" y="374" width="7.00" height="7" fill="#ffffff"/>
<rect x="682.00" y="374" width="4.00" height="7" fill="#f2f2f2"/>
</g>
<path d="M689 86.7L692.1 89.4L689 92.1Z" fill="#000"/>
<text class="inf" x="694.41" y="92.90" textLength="53.19" lengthAdjust="spacingAndGlyphs">30.0 km</text>
<path d="M689 103.9L692.1 106.6L689 109.3Z" fill="#000"/>
<text class="inf" x="694.45" y="110.09" textLength="53.15" lengthAdjust="spacingAndGlyphs">28.1 km</text>
<path d="M689 121.1L692.1 123.8L689 126.5Z" fill="#000"/>
<text class="inf" x="694.45" y="127.28" textLength="53.15" lengthAdjust="spacingAndGlyphs">26.3 km</text>
<path d="M689 138.3L692.1 141.0L689 143.7Z" fill="#000"/>
<text class="inf" x="694.45" y="144.47" textLength="53.15" lengthAdjust="spacingAndGlyphs">24.4 km</text>
<path d="M689 155.5L692.1 158.2L689 160.9Z" fill="#000"/>
<text class="inf" x="694.45" y="161.66" textLength="53.15" lengthAdjust="spacingAndGlyphs">22.5 km</text>
<path d="M689 172.7L692.1 175.4L689 178.1Z" fill="#000"/>
<text class="inf" x="694.45" y="178.85" textLength="53.15" lengthAdjust="spacingAndGlyphs">20.6 km</text>
<path d="M689 189.8L692.1 192.5L689 195.2Z" fill="#000"/>
<text class="inf" x="693.96" y="196.04" textLength="53.65" lengthAdjust="spacingAndGlyphs">18.8 km</text>
<path d="M689 207.0L692.1 209.7L689 212.4Z" fill="#000"/>
<text class="inf" x="693.96" y="213.23" textLength="53.65" lengthAdjust="spacingAndGlyphs">16.9 km</text>
<path d="M689 224.2L692.1 226.9L689 229.6Z" fill="#000"/>
<text class="inf" x="693.96" y="230.42" textLength="53.65" lengthAdjust="spacingAndGlyphs">15.0 km</text>
<path d="M689 241.4L692.1 244.1L689 246.8Z" fill="#000"/>
<text class="inf" x="693.96" y="247.61" textLength="53.65" lengthAdjust="spacingAndGlyphs">13.1 km</text>
<path d="M689 258.6L692.1 261.3L689 264.0Z" fill="#000"/>
<text class="inf" x="693.96" y="264.80" textLength="53.65" lengthAdjust="spacingAndGlyphs">11.3 km</text>
<path d="M689 275.8L692.1 278.5L689 281.2Z" fill="#000"/>
<text class="inf" x="702.68" y="281.99" textLength="44.92" lengthAdjust="spacingAndGlyphs">9.4 km</text>
<path d="M689 293.0L692.1 295.7L689 298.4Z" fill="#000"/>
<text class="inf" x="702.43" y="299.18" textLength="45.18" lengthAdjust="spacingAndGlyphs">7.5 km</text>
<path d="M689 310.2L692.1 312.9L689 315.6Z" fill="#000"/>
<text class="inf" x="702.49" y="316.37" textLength="45.11" lengthAdjust="spacingAndGlyphs">5.6 km</text>
<path d="M689 327.4L692.1 330.1L689 332.8Z" fill="#000"/>
<text class="inf" x="702.51" y="333.56" textLength="45.10" lengthAdjust="spacingAndGlyphs">3.8 km</text>
<path d="M689 344.6L692.1 347.2L689 349.9Z" fill="#000"/>
<text class="inf" x="702.05" y="350.75" textLength="45.56" lengthAdjust="spacingAndGlyphs">1.9 km</text>
<path d="M689 361.7L692.1 364.4L689 367.1Z" fill="#000"/>
<text class="inf" x="702.64" y="367.94" textLength="44.96" lengthAdjust="spacingAndGlyphs">0.0 km</text>
<text class="inf" x="607.18" y="399.70" textLength="49.46" lengthAdjust="spacingAndGlyphs">Pdf File:</text>
<text class="inf" x="706.60" y="399.70" textLength="127.00" lengthAdjust="spacingAndGlyphs">eht_120km_text.eht</text>
<text class="inf" x="607.72" y="416.70" textLength="79.99" lengthAdjust="spacingAndGlyphs">Clutter Filter:</text>
<text class="inf" x="706.37" y="416.70" textLength="77.52" lengthAdjust="spacingAndGlyphs">IIRDoppler 6</text>
<text class="inf" x="608.44" y="433.70" textLength="98.66" lengthAdjust="spacingAndGlyphs">Time sampling:</text>
<text class="inf" x="706.72" y="433.70" textLength="16.39" lengthAdjust="spacingAndGlyphs">36</text>
<text class="inf" x="607.15" y="450.70" textLength="28.14" lengthAdjust="spacingAndGlyphs">PRF:</text>
<text class="inf" x="706.80" y="450.70" textLength="109.64" lengthAdjust="spacingAndGlyphs">1000 Hz / 800 Hz</text>
<text class="inf" x="607.08" y="467.70" textLength="47.39" lengthAdjust="spacingAndGlyphs">Range:</text>
<text class="inf" x="706.79" y="467.70" textLength="48.61" lengthAdjust="spacingAndGlyphs">120 km</text>
<text class="inf" x="607.16" y="484.70" textLength="70.92" lengthAdjust="spacingAndGlyphs">Resolution:</text>
<text class="inf" x="707.16" y="484.70" textLength="94.83" lengthAdjust="spacingAndGlyphs">0.400 km/pixel</text>
<text class="inf" x="607.10" y="501.70" textLength="41.14" lengthAdjust="spacingAndGlyphs">Min Z:</text>
<text class="inf" x="707.38" y="501.70" textLength="62.59" lengthAdjust="spacingAndGlyphs">-10.0 dBZ</text>
<text class="inf" x="608.44" y="518.70" textLength="81.89" lengthAdjust="spacingAndGlyphs">Text Heights:</text>
<text class="inf" x="706.76" y="518.70" textLength="58.13" lengthAdjust="spacingAndGlyphs">Echo Top</text>
<text class="inf" x="607.09" y="535.70" textLength="36.26" lengthAdjust="spacingAndGlyphs">Data:</text>
<text class="inf" x="706.76" y="535.70" textLength="58.13" lengthAdjust="spacingAndGlyphs">Echo Top</text>
<text class="inf" x="607.14" y="554.70" textLength="54.90" lengthAdjust="spacingAndGlyphs">Rainbow</text>
<text class="inf" x="662.73" y="554.70" textLength="73.63" lengthAdjust="spacingAndGlyphs">® SELEX-SI</text>
</svg></body></html>
